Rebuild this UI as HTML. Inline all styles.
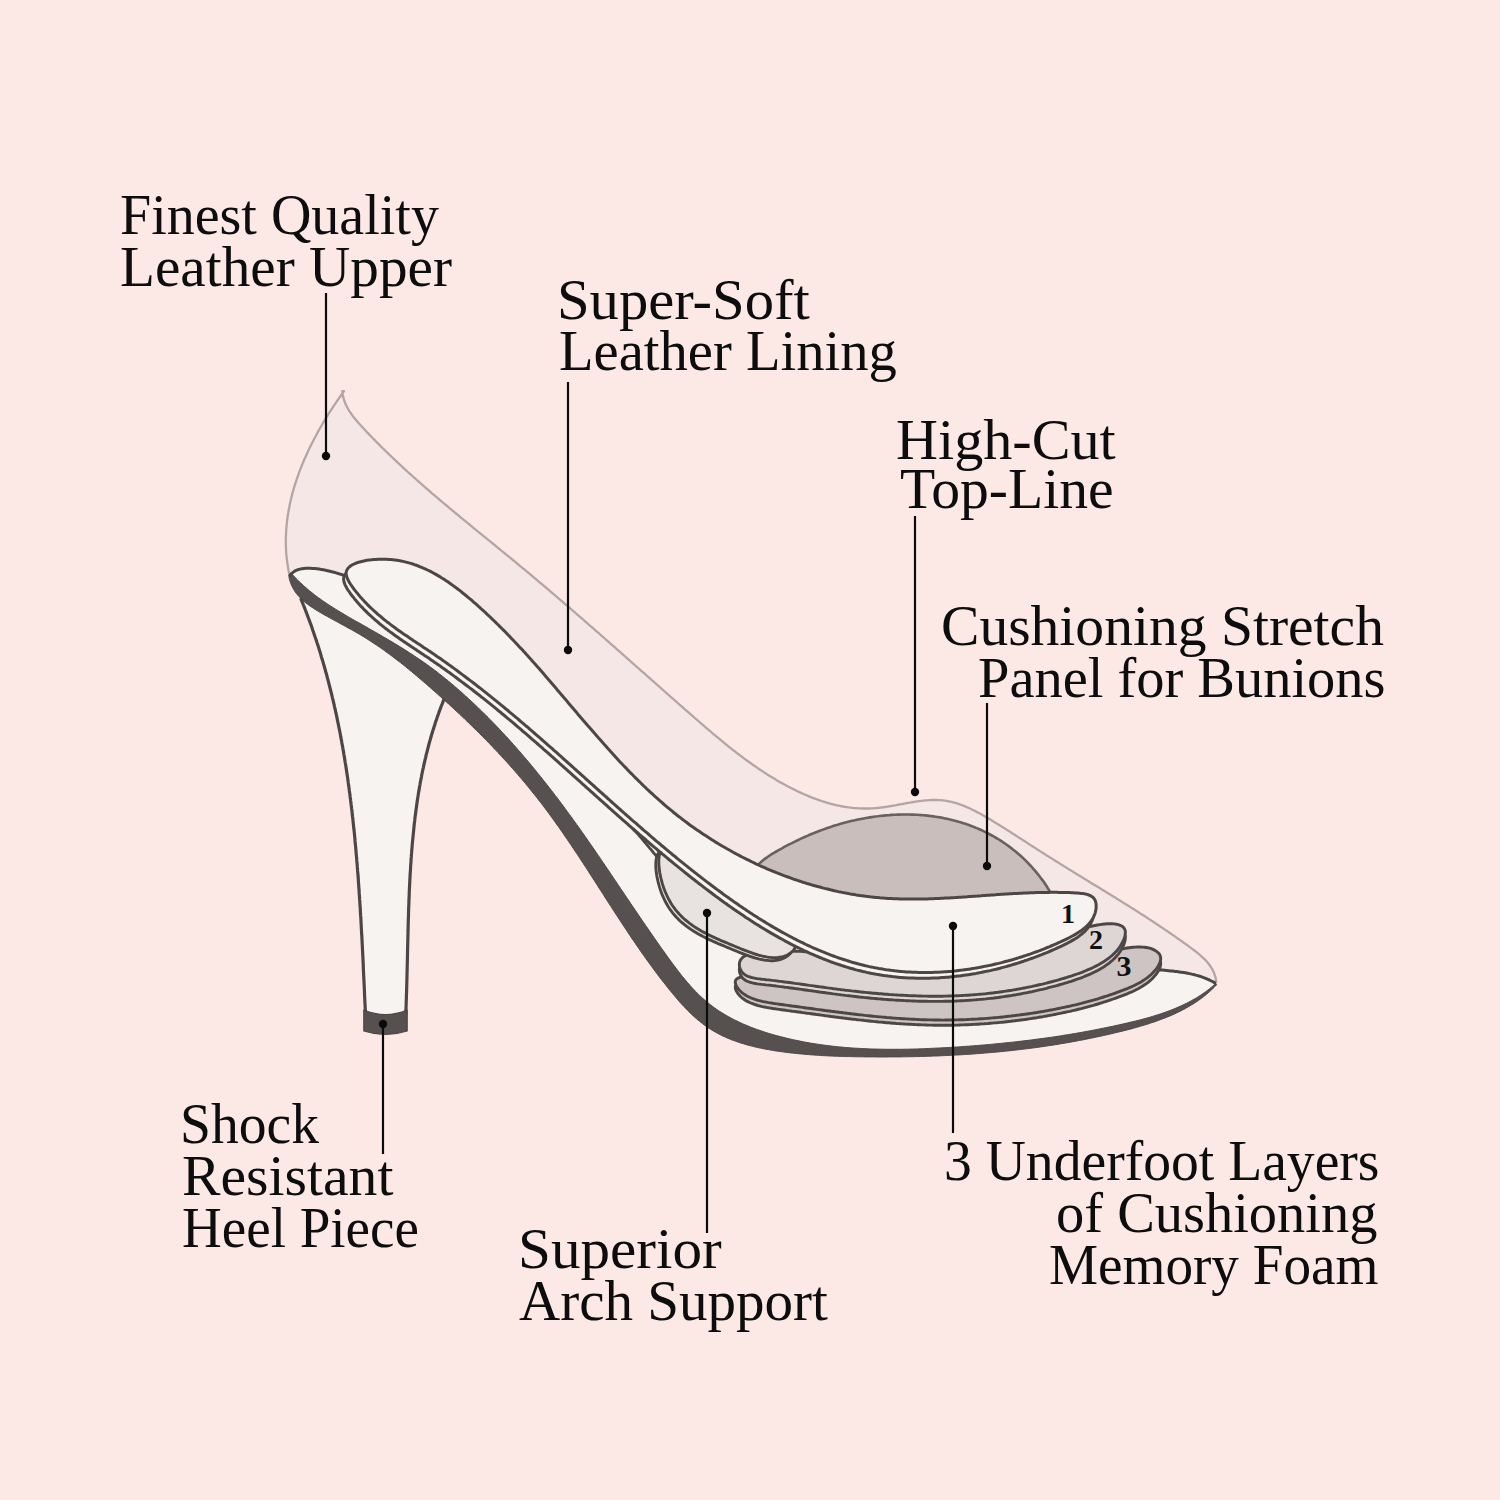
<!DOCTYPE html>
<html><head><meta charset="utf-8"><style>
html,body{margin:0;padding:0;}
body{width:1500px;height:1500px;background:#fce9e6;position:relative;overflow:hidden;}
svg{position:absolute;left:0;top:0;}
.t{position:absolute;font-family:"Liberation Serif",serif;color:#0d0d0d;font-size:56px;line-height:1;white-space:nowrap;transform-origin:0 0;}
</style></head><body>
<svg width="1500" height="1500" viewBox="0 0 1500 1500">
<g stroke-linejoin="round" stroke-linecap="round">
<path d="M289.6,575.2 289.1,573.2 288.7,571.2 288.3,569.1 288.0,567.1 287.6,565.1 287.3,563.0 287.1,561.0 286.8,559.0 286.6,556.9 286.4,554.9 286.2,552.9 286.1,550.8 286.0,548.8 285.9,546.8 285.9,544.7 285.8,542.7 285.8,540.7 285.8,538.7 285.9,536.6 286.0,534.6 286.1,532.6 286.2,530.6 286.3,528.6 286.5,526.5 286.7,524.5 286.9,522.5 287.1,520.5 287.4,518.5 287.6,516.5 287.9,514.5 288.3,512.5 288.6,510.5 289.0,508.5 289.4,506.5 289.8,504.5 290.2,502.5 290.7,500.5 291.1,498.6 291.6,496.6 292.1,494.6 292.6,492.6 293.2,490.7 293.7,488.7 294.3,486.8 294.9,484.8 295.5,482.9 296.2,480.9 296.8,479.0 297.5,477.0 298.2,475.1 298.9,473.2 299.6,471.2 300.3,469.3 301.1,467.4 301.8,465.5 302.6,463.6 303.4,461.7 304.2,459.8 305.0,457.9 305.9,456.0 306.7,454.2 307.6,452.3 308.4,450.4 309.3,448.6 310.2,446.7 311.1,444.9 312.1,443.0 313.0,441.2 313.9,439.4 314.9,437.5 315.9,435.7 316.9,433.9 317.8,432.1 318.8,430.3 319.8,428.5 320.9,426.7 321.9,425.0 322.9,423.2 324.0,421.4 325.0,419.7 326.1,417.9 327.2,416.2 328.2,414.5 329.3,412.7 330.4,411.0 331.5,409.3 332.6,407.6 333.7,405.9 334.8,404.3 336.0,402.6 337.1,400.9 338.2,399.3 339.4,397.6 340.5,396.0 341.7,394.4 342.8,392.7 344.0,391.1 L342.3,391.2 342.5,393.1 342.8,395.0 343.2,396.9 343.7,398.7 344.2,400.5 344.9,402.3 345.6,404.1 346.4,405.8 347.3,407.5 348.2,409.2 349.2,410.8 350.3,412.4 351.4,414.0 352.5,415.6 353.7,417.2 355.0,418.7 356.2,420.3 357.5,421.8 358.8,423.3 360.2,424.8 361.5,426.3 362.9,427.8 364.3,429.2 365.7,430.7 367.0,432.2 368.4,433.6 369.8,435.1 371.2,436.5 372.6,438.0 374.0,439.4 375.4,440.9 376.8,442.3 378.3,443.7 379.7,445.1 381.1,446.6 382.5,448.0 384.0,449.4 385.4,450.8 386.8,452.2 388.3,453.6 389.7,455.0 391.2,456.4 392.6,457.8 394.1,459.2 395.6,460.6 397.0,461.9 398.5,463.3 399.9,464.7 401.4,466.0 402.9,467.4 404.4,468.8 405.9,470.1 407.3,471.5 408.8,472.8 410.3,474.2 411.8,475.5 413.3,476.9 414.8,478.2 416.3,479.5 417.8,480.9 419.3,482.2 420.8,483.5 422.3,484.9 423.8,486.2 425.3,487.5 426.9,488.8 428.4,490.1 429.9,491.4 431.4,492.8 432.9,494.1 434.5,495.4 436.0,496.7 437.5,498.0 439.1,499.3 440.6,500.6 442.1,501.9 443.7,503.2 445.2,504.5 446.7,505.7 448.3,507.0 449.8,508.3 451.4,509.6 452.9,510.9 454.4,512.2 456.0,513.5 457.5,514.7 459.1,516.0 460.6,517.3 462.2,518.6 463.7,519.9 465.3,521.1 466.8,522.4 468.4,523.7 469.9,524.9 471.5,526.2 473.0,527.5 474.6,528.8 476.2,530.0 477.7,531.3 479.3,532.6 480.8,533.8 482.4,535.1 483.9,536.4 485.5,537.6 487.0,538.9 488.6,540.2 490.2,541.4 491.7,542.7 493.3,544.0 494.8,545.2 496.4,546.5 497.9,547.8 499.5,549.0 501.0,550.3 502.6,551.6 504.2,552.8 505.7,554.1 507.3,555.4 508.8,556.6 510.4,557.9 511.9,559.2 513.5,560.5 515.0,561.7 516.5,563.0 518.1,564.3 519.6,565.6 521.2,566.8 522.7,568.1 524.3,569.4 525.8,570.7 527.3,572.0 528.9,573.2 530.4,574.5 532.0,575.8 533.5,577.1 535.0,578.4 536.5,579.7 538.1,581.0 539.6,582.3 541.1,583.5 542.7,584.8 544.2,586.1 545.7,587.4 547.2,588.7 548.8,590.0 550.3,591.3 551.8,592.6 553.3,593.9 554.9,595.2 556.4,596.5 557.9,597.8 559.4,599.1 560.9,600.4 562.4,601.7 564.0,603.0 565.5,604.3 567.0,605.6 568.5,606.9 570.0,608.2 571.5,609.5 573.0,610.9 574.6,612.2 576.1,613.5 577.6,614.8 579.1,616.1 580.6,617.4 582.1,618.7 583.6,620.0 585.1,621.3 586.6,622.7 588.1,624.0 589.6,625.3 591.1,626.6 592.7,627.9 594.2,629.2 595.7,630.6 597.2,631.9 598.7,633.2 600.2,634.5 601.7,635.8 603.2,637.2 604.7,638.5 606.2,639.8 607.7,641.1 609.2,642.4 610.7,643.8 612.2,645.1 613.7,646.4 615.2,647.7 616.7,649.1 618.2,650.4 619.7,651.7 621.2,653.0 622.7,654.3 624.2,655.7 625.7,657.0 627.2,658.3 628.7,659.7 630.2,661.0 631.7,662.3 633.2,663.6 634.7,665.0 636.2,666.3 637.7,667.6 639.2,668.9 640.7,670.3 642.2,671.6 643.7,672.9 645.2,674.2 646.7,675.6 648.2,676.9 649.7,678.2 651.2,679.6 652.7,680.9 654.2,682.2 655.7,683.5 657.2,684.9 658.7,686.2 660.2,687.5 661.7,688.9 663.2,690.2 664.7,691.5 666.2,692.8 667.7,694.2 669.2,695.5 670.7,696.8 672.3,698.1 673.8,699.5 675.3,700.8 676.8,702.1 678.3,703.5 679.8,704.8 681.3,706.1 682.8,707.4 684.3,708.8 685.8,710.1 687.3,711.4 688.9,712.7 690.4,714.1 691.9,715.4 693.4,716.7 694.9,718.0 696.4,719.4 698.0,720.7 699.5,722.0 701.0,723.3 702.5,724.6 704.0,725.9 705.6,727.3 707.1,728.6 708.6,729.9 710.2,731.2 711.7,732.5 713.2,733.8 714.8,735.1 716.3,736.4 717.9,737.7 719.4,738.9 721.0,740.2 722.5,741.5 724.1,742.8 725.6,744.0 727.2,745.3 728.7,746.6 730.3,747.8 731.9,749.1 733.5,750.3 735.1,751.5 736.6,752.8 738.2,754.0 739.8,755.2 741.4,756.4 743.0,757.6 744.6,758.8 746.2,760.0 747.9,761.2 749.5,762.3 751.1,763.5 752.7,764.7 754.4,765.8 756.0,766.9 757.7,768.1 759.3,769.2 761.0,770.3 762.7,771.4 764.3,772.5 766.0,773.6 767.7,774.7 769.4,775.7 771.1,776.8 772.8,777.8 774.5,778.8 776.2,779.9 778.0,780.9 779.7,781.9 781.4,782.9 783.2,783.8 784.9,784.8 786.7,785.8 788.5,786.7 790.2,787.6 792.0,788.5 793.8,789.4 795.6,790.3 797.4,791.2 799.3,792.1 801.1,792.9 802.9,793.7 804.8,794.5 806.6,795.3 808.5,796.1 810.3,796.9 812.2,797.6 814.1,798.3 815.9,799.0 817.8,799.7 819.7,800.4 821.6,801.0 823.5,801.6 825.4,802.2 827.3,802.8 829.3,803.3 831.2,803.9 833.1,804.4 835.1,804.8 837.0,805.3 839.0,805.7 840.9,806.1 842.9,806.5 844.8,806.8 846.8,807.1 848.8,807.4 850.8,807.6 852.7,807.9 854.7,808.1 856.7,808.2 858.7,808.3 860.7,808.4 862.7,808.5 864.7,808.5 866.7,808.5 868.8,808.5 870.8,808.4 872.8,808.3 874.8,808.1 876.8,808.0 878.9,807.8 880.9,807.5 882.9,807.3 885.0,807.0 887.0,806.7 889.1,806.3 891.1,806.0 893.1,805.6 895.2,805.3 897.2,804.9 899.2,804.5 901.3,804.2 903.3,803.8 905.3,803.4 907.4,803.0 909.4,802.7 911.4,802.3 913.4,802.0 915.4,801.7 917.4,801.4 919.4,801.1 921.4,800.8 923.4,800.6 925.4,800.4 927.4,800.3 929.4,800.1 931.3,800.0 933.3,800.0 935.2,800.0 937.2,800.0 939.1,800.1 941.0,800.2 942.9,800.4 944.8,800.6 946.7,800.9 948.6,801.3 950.5,801.7 952.3,802.1 954.2,802.6 956.0,803.1 957.9,803.7 959.7,804.3 961.5,805.0 963.4,805.7 965.2,806.4 967.0,807.2 968.8,808.0 970.6,808.8 972.3,809.7 974.1,810.5 975.9,811.4 977.6,812.4 979.4,813.3 981.2,814.3 982.9,815.3 984.6,816.3 986.4,817.3 988.1,818.3 989.8,819.3 991.6,820.3 993.3,821.4 995.0,822.4 996.7,823.5 998.4,824.5 1000.1,825.6 1001.9,826.7 1003.6,827.7 1005.3,828.8 1007.0,829.9 1008.7,830.9 1010.4,832.0 1012.0,833.1 1013.7,834.2 1015.4,835.3 1017.1,836.4 1018.8,837.5 1020.5,838.5 1022.2,839.6 1023.9,840.7 1025.6,841.8 1027.2,842.9 1028.9,844.0 1030.6,845.1 1032.3,846.2 1034.0,847.3 1035.7,848.4 1037.4,849.5 1039.1,850.5 1040.8,851.6 1042.5,852.7 1044.2,853.8 1045.9,854.9 1047.6,855.9 1049.3,857.0 1051.0,858.1 1052.7,859.1 1054.4,860.2 1056.1,861.3 1057.8,862.3 1059.5,863.4 1061.2,864.5 1062.9,865.5 1064.6,866.6 1066.3,867.6 1068.0,868.7 1069.7,869.7 1071.5,870.8 1073.2,871.9 1074.9,872.9 1076.6,874.0 1078.3,875.0 1080.0,876.1 1081.7,877.1 1083.5,878.2 1085.2,879.2 1086.9,880.3 1088.6,881.3 1090.3,882.4 1092.0,883.4 1093.7,884.4 1095.5,885.5 1097.2,886.5 1098.9,887.6 1100.6,888.6 1102.3,889.7 1104.0,890.7 1105.7,891.8 1107.5,892.9 1109.2,893.9 1110.9,895.0 1112.6,896.0 1114.3,897.1 1116.0,898.1 1117.7,899.2 1119.4,900.2 1121.1,901.3 1122.8,902.4 1124.5,903.4 1126.2,904.5 1127.9,905.6 1129.6,906.6 1131.3,907.7 1133.0,908.8 1134.7,909.8 1136.4,910.9 1138.1,912.0 1139.8,913.1 1141.5,914.2 1143.2,915.2 1144.9,916.3 1146.5,917.4 1148.2,918.5 1149.9,919.6 1151.6,920.7 1153.3,921.8 1154.9,922.9 1156.6,924.0 1158.3,925.1 1159.9,926.2 1161.6,927.4 1163.3,928.5 1164.9,929.6 1166.6,930.7 1168.3,931.9 1169.9,933.0 1171.6,934.1 1173.2,935.3 1174.9,936.4 1176.5,937.6 1178.1,938.7 1179.8,939.9 1181.4,941.0 1183.0,942.2 1184.7,943.4 1186.3,944.5 1187.9,945.7 1189.5,946.9 1191.2,948.1 1192.8,949.3 1194.4,950.5 1195.9,951.7 1197.5,952.9 1199.0,954.2 1200.5,955.5 1202.0,956.8 1203.4,958.1 1204.8,959.4 1206.1,960.8 1207.4,962.3 1208.6,963.7 1209.7,965.3 1210.8,966.8 1211.8,968.5 1212.7,970.1 1213.6,971.9 1214.3,973.6 1214.9,975.5 1215.5,977.4 1215.9,979.4 1216.2,981.5 L1150,1020 L700,995 L450,690 Z" fill="#f5e7e6"/>
<path d="M289.6,575.2 289.1,573.2 288.7,571.2 288.3,569.1 288.0,567.1 287.6,565.1 287.3,563.0 287.1,561.0 286.8,559.0 286.6,556.9 286.4,554.9 286.2,552.9 286.1,550.8 286.0,548.8 285.9,546.8 285.9,544.7 285.8,542.7 285.8,540.7 285.8,538.7 285.9,536.6 286.0,534.6 286.1,532.6 286.2,530.6 286.3,528.6 286.5,526.5 286.7,524.5 286.9,522.5 287.1,520.5 287.4,518.5 287.6,516.5 287.9,514.5 288.3,512.5 288.6,510.5 289.0,508.5 289.4,506.5 289.8,504.5 290.2,502.5 290.7,500.5 291.1,498.6 291.6,496.6 292.1,494.6 292.6,492.6 293.2,490.7 293.7,488.7 294.3,486.8 294.9,484.8 295.5,482.9 296.2,480.9 296.8,479.0 297.5,477.0 298.2,475.1 298.9,473.2 299.6,471.2 300.3,469.3 301.1,467.4 301.8,465.5 302.6,463.6 303.4,461.7 304.2,459.8 305.0,457.9 305.9,456.0 306.7,454.2 307.6,452.3 308.4,450.4 309.3,448.6 310.2,446.7 311.1,444.9 312.1,443.0 313.0,441.2 313.9,439.4 314.9,437.5 315.9,435.7 316.9,433.9 317.8,432.1 318.8,430.3 319.8,428.5 320.9,426.7 321.9,425.0 322.9,423.2 324.0,421.4 325.0,419.7 326.1,417.9 327.2,416.2 328.2,414.5 329.3,412.7 330.4,411.0 331.5,409.3 332.6,407.6 333.7,405.9 334.8,404.3 336.0,402.6 337.1,400.9 338.2,399.3 339.4,397.6 340.5,396.0 341.7,394.4 342.8,392.7 344.0,391.1 L342.3,391.2 342.5,393.1 342.8,395.0 343.2,396.9 343.7,398.7 344.2,400.5 344.9,402.3 345.6,404.1 346.4,405.8 347.3,407.5 348.2,409.2 349.2,410.8 350.3,412.4 351.4,414.0 352.5,415.6 353.7,417.2 355.0,418.7 356.2,420.3 357.5,421.8 358.8,423.3 360.2,424.8 361.5,426.3 362.9,427.8 364.3,429.2 365.7,430.7 367.0,432.2 368.4,433.6 369.8,435.1 371.2,436.5 372.6,438.0 374.0,439.4 375.4,440.9 376.8,442.3 378.3,443.7 379.7,445.1 381.1,446.6 382.5,448.0 384.0,449.4 385.4,450.8 386.8,452.2 388.3,453.6 389.7,455.0 391.2,456.4 392.6,457.8 394.1,459.2 395.6,460.6 397.0,461.9 398.5,463.3 399.9,464.7 401.4,466.0 402.9,467.4 404.4,468.8 405.9,470.1 407.3,471.5 408.8,472.8 410.3,474.2 411.8,475.5 413.3,476.9 414.8,478.2 416.3,479.5 417.8,480.9 419.3,482.2 420.8,483.5 422.3,484.9 423.8,486.2 425.3,487.5 426.9,488.8 428.4,490.1 429.9,491.4 431.4,492.8 432.9,494.1 434.5,495.4 436.0,496.7 437.5,498.0 439.1,499.3 440.6,500.6 442.1,501.9 443.7,503.2 445.2,504.5 446.7,505.7 448.3,507.0 449.8,508.3 451.4,509.6 452.9,510.9 454.4,512.2 456.0,513.5 457.5,514.7 459.1,516.0 460.6,517.3 462.2,518.6 463.7,519.9 465.3,521.1 466.8,522.4 468.4,523.7 469.9,524.9 471.5,526.2 473.0,527.5 474.6,528.8 476.2,530.0 477.7,531.3 479.3,532.6 480.8,533.8 482.4,535.1 483.9,536.4 485.5,537.6 487.0,538.9 488.6,540.2 490.2,541.4 491.7,542.7 493.3,544.0 494.8,545.2 496.4,546.5 497.9,547.8 499.5,549.0 501.0,550.3 502.6,551.6 504.2,552.8 505.7,554.1 507.3,555.4 508.8,556.6 510.4,557.9 511.9,559.2 513.5,560.5 515.0,561.7 516.5,563.0 518.1,564.3 519.6,565.6 521.2,566.8 522.7,568.1 524.3,569.4 525.8,570.7 527.3,572.0 528.9,573.2 530.4,574.5 532.0,575.8 533.5,577.1 535.0,578.4 536.5,579.7 538.1,581.0 539.6,582.3 541.1,583.5 542.7,584.8 544.2,586.1 545.7,587.4 547.2,588.7 548.8,590.0 550.3,591.3 551.8,592.6 553.3,593.9 554.9,595.2 556.4,596.5 557.9,597.8 559.4,599.1 560.9,600.4 562.4,601.7 564.0,603.0 565.5,604.3 567.0,605.6 568.5,606.9 570.0,608.2 571.5,609.5 573.0,610.9 574.6,612.2 576.1,613.5 577.6,614.8 579.1,616.1 580.6,617.4 582.1,618.7 583.6,620.0 585.1,621.3 586.6,622.7 588.1,624.0 589.6,625.3 591.1,626.6 592.7,627.9 594.2,629.2 595.7,630.6 597.2,631.9 598.7,633.2 600.2,634.5 601.7,635.8 603.2,637.2 604.7,638.5 606.2,639.8 607.7,641.1 609.2,642.4 610.7,643.8 612.2,645.1 613.7,646.4 615.2,647.7 616.7,649.1 618.2,650.4 619.7,651.7 621.2,653.0 622.7,654.3 624.2,655.7 625.7,657.0 627.2,658.3 628.7,659.7 630.2,661.0 631.7,662.3 633.2,663.6 634.7,665.0 636.2,666.3 637.7,667.6 639.2,668.9 640.7,670.3 642.2,671.6 643.7,672.9 645.2,674.2 646.7,675.6 648.2,676.9 649.7,678.2 651.2,679.6 652.7,680.9 654.2,682.2 655.7,683.5 657.2,684.9 658.7,686.2 660.2,687.5 661.7,688.9 663.2,690.2 664.7,691.5 666.2,692.8 667.7,694.2 669.2,695.5 670.7,696.8 672.3,698.1 673.8,699.5 675.3,700.8 676.8,702.1 678.3,703.5 679.8,704.8 681.3,706.1 682.8,707.4 684.3,708.8 685.8,710.1 687.3,711.4 688.9,712.7 690.4,714.1 691.9,715.4 693.4,716.7 694.9,718.0 696.4,719.4 698.0,720.7 699.5,722.0 701.0,723.3 702.5,724.6 704.0,725.9 705.6,727.3 707.1,728.6 708.6,729.9 710.2,731.2 711.7,732.5 713.2,733.8 714.8,735.1 716.3,736.4 717.9,737.7 719.4,738.9 721.0,740.2 722.5,741.5 724.1,742.8 725.6,744.0 727.2,745.3 728.7,746.6 730.3,747.8 731.9,749.1 733.5,750.3 735.1,751.5 736.6,752.8 738.2,754.0 739.8,755.2 741.4,756.4 743.0,757.6 744.6,758.8 746.2,760.0 747.9,761.2 749.5,762.3 751.1,763.5 752.7,764.7 754.4,765.8 756.0,766.9 757.7,768.1 759.3,769.2 761.0,770.3 762.7,771.4 764.3,772.5 766.0,773.6 767.7,774.7 769.4,775.7 771.1,776.8 772.8,777.8 774.5,778.8 776.2,779.9 778.0,780.9 779.7,781.9 781.4,782.9 783.2,783.8 784.9,784.8 786.7,785.8 788.5,786.7 790.2,787.6 792.0,788.5 793.8,789.4 795.6,790.3 797.4,791.2 799.3,792.1 801.1,792.9 802.9,793.7 804.8,794.5 806.6,795.3 808.5,796.1 810.3,796.9 812.2,797.6 814.1,798.3 815.9,799.0 817.8,799.7 819.7,800.4 821.6,801.0 823.5,801.6 825.4,802.2 827.3,802.8 829.3,803.3 831.2,803.9 833.1,804.4 835.1,804.8 837.0,805.3 839.0,805.7 840.9,806.1 842.9,806.5 844.8,806.8 846.8,807.1 848.8,807.4 850.8,807.6 852.7,807.9 854.7,808.1 856.7,808.2 858.7,808.3 860.7,808.4 862.7,808.5 864.7,808.5 866.7,808.5 868.8,808.5 870.8,808.4 872.8,808.3 874.8,808.1 876.8,808.0 878.9,807.8 880.9,807.5 882.9,807.3 885.0,807.0 887.0,806.7 889.1,806.3 891.1,806.0 893.1,805.6 895.2,805.3 897.2,804.9 899.2,804.5 901.3,804.2 903.3,803.8 905.3,803.4 907.4,803.0 909.4,802.7 911.4,802.3 913.4,802.0 915.4,801.7 917.4,801.4 919.4,801.1 921.4,800.8 923.4,800.6 925.4,800.4 927.4,800.3 929.4,800.1 931.3,800.0 933.3,800.0 935.2,800.0 937.2,800.0 939.1,800.1 941.0,800.2 942.9,800.4 944.8,800.6 946.7,800.9 948.6,801.3 950.5,801.7 952.3,802.1 954.2,802.6 956.0,803.1 957.9,803.7 959.7,804.3 961.5,805.0 963.4,805.7 965.2,806.4 967.0,807.2 968.8,808.0 970.6,808.8 972.3,809.7 974.1,810.5 975.9,811.4 977.6,812.4 979.4,813.3 981.2,814.3 982.9,815.3 984.6,816.3 986.4,817.3 988.1,818.3 989.8,819.3 991.6,820.3 993.3,821.4 995.0,822.4 996.7,823.5 998.4,824.5 1000.1,825.6 1001.9,826.7 1003.6,827.7 1005.3,828.8 1007.0,829.9 1008.7,830.9 1010.4,832.0 1012.0,833.1 1013.7,834.2 1015.4,835.3 1017.1,836.4 1018.8,837.5 1020.5,838.5 1022.2,839.6 1023.9,840.7 1025.6,841.8 1027.2,842.9 1028.9,844.0 1030.6,845.1 1032.3,846.2 1034.0,847.3 1035.7,848.4 1037.4,849.5 1039.1,850.5 1040.8,851.6 1042.5,852.7 1044.2,853.8 1045.9,854.9 1047.6,855.9 1049.3,857.0 1051.0,858.1 1052.7,859.1 1054.4,860.2 1056.1,861.3 1057.8,862.3 1059.5,863.4 1061.2,864.5 1062.9,865.5 1064.6,866.6 1066.3,867.6 1068.0,868.7 1069.7,869.7 1071.5,870.8 1073.2,871.9 1074.9,872.9 1076.6,874.0 1078.3,875.0 1080.0,876.1 1081.7,877.1 1083.5,878.2 1085.2,879.2 1086.9,880.3 1088.6,881.3 1090.3,882.4 1092.0,883.4 1093.7,884.4 1095.5,885.5 1097.2,886.5 1098.9,887.6 1100.6,888.6 1102.3,889.7 1104.0,890.7 1105.7,891.8 1107.5,892.9 1109.2,893.9 1110.9,895.0 1112.6,896.0 1114.3,897.1 1116.0,898.1 1117.7,899.2 1119.4,900.2 1121.1,901.3 1122.8,902.4 1124.5,903.4 1126.2,904.5 1127.9,905.6 1129.6,906.6 1131.3,907.7 1133.0,908.8 1134.7,909.8 1136.4,910.9 1138.1,912.0 1139.8,913.1 1141.5,914.2 1143.2,915.2 1144.9,916.3 1146.5,917.4 1148.2,918.5 1149.9,919.6 1151.6,920.7 1153.3,921.8 1154.9,922.9 1156.6,924.0 1158.3,925.1 1159.9,926.2 1161.6,927.4 1163.3,928.5 1164.9,929.6 1166.6,930.7 1168.3,931.9 1169.9,933.0 1171.6,934.1 1173.2,935.3 1174.9,936.4 1176.5,937.6 1178.1,938.7 1179.8,939.9 1181.4,941.0 1183.0,942.2 1184.7,943.4 1186.3,944.5 1187.9,945.7 1189.5,946.9 1191.2,948.1 1192.8,949.3 1194.4,950.5 1195.9,951.7 1197.5,952.9 1199.0,954.2 1200.5,955.5 1202.0,956.8 1203.4,958.1 1204.8,959.4 1206.1,960.8 1207.4,962.3 1208.6,963.7 1209.7,965.3 1210.8,966.8 1211.8,968.5 1212.7,970.1 1213.6,971.9 1214.3,973.6 1214.9,975.5 1215.5,977.4 1215.9,979.4 1216.2,981.5" fill="none" stroke="#b3a5a4" stroke-width="2.3"/>
<path d="M289.7,575.7 291.1,574.0 292.7,572.6 294.3,571.4 296.1,570.4 298.0,569.7 299.9,569.1 301.9,568.7 304.0,568.5 306.1,568.3 308.2,568.3 310.4,568.3 312.6,568.4 314.7,568.6 316.9,568.8 319.1,569.1 321.2,569.4 323.4,569.8 325.5,570.2 327.7,570.7 329.8,571.2 331.9,571.8 334.0,572.3 336.1,572.9 338.1,573.5 340.1,574.1 342.1,574.7 344.0,575.3 345.9,575.9 600.0,800.0 900.0,960.0 1150.0,969.0 1152.0,969.2 1154.1,969.4 1156.2,969.6 1158.2,969.8 1160.3,970.0 1162.4,970.1 1164.5,970.3 1166.6,970.5 1168.7,970.7 1170.8,970.9 1172.9,971.1 1175.0,971.4 1177.1,971.6 1179.2,971.9 1181.3,972.2 1183.4,972.5 1185.4,972.8 1187.5,973.2 1189.6,973.6 1191.6,974.1 1193.7,974.5 1195.7,975.1 1197.7,975.6 1199.7,976.2 1201.7,976.9 1203.6,977.6 1205.6,978.3 1207.5,979.2 1209.4,980.0 1211.3,981.0 1213.2,981.9 1215.0,983.0 1215.5,983.7 1214.0,985.0 1212.5,986.3 1211.0,987.6 1209.5,988.8 1207.9,990.0 1206.3,991.2 1204.8,992.4 1203.1,993.5 1201.5,994.6 1199.9,995.7 1198.2,996.7 1196.5,997.8 1194.8,998.8 1193.1,999.7 1191.4,1000.7 1189.7,1001.6 1187.9,1002.6 1186.2,1003.4 1184.4,1004.3 1182.6,1005.2 1180.8,1006.0 1179.0,1006.8 1177.2,1007.6 1175.3,1008.4 1173.5,1009.1 1171.6,1009.9 1169.8,1010.6 1167.9,1011.3 1166.0,1012.0 1164.1,1012.7 1162.2,1013.3 1160.3,1014.0 1158.4,1014.6 1156.4,1015.2 1154.5,1015.8 1152.6,1016.4 1150.6,1017.0 1148.7,1017.5 1146.7,1018.1 1144.8,1018.6 1142.8,1019.2 1140.8,1019.7 1138.9,1020.2 1136.9,1020.7 1134.9,1021.2 1132.9,1021.7 1130.9,1022.1 1129.0,1022.6 1127.0,1023.1 1125.0,1023.5 1123.0,1024.0 1121.0,1024.4 1119.0,1024.9 1117.1,1025.3 1115.1,1025.7 1113.1,1026.2 1111.1,1026.6 1109.1,1027.0 1107.1,1027.4 1105.2,1027.8 1103.2,1028.2 1101.2,1028.6 1099.2,1029.0 1097.2,1029.4 1095.3,1029.8 1093.3,1030.2 1091.3,1030.5 1089.3,1030.9 1087.3,1031.3 1085.4,1031.6 1083.4,1032.0 1081.4,1032.4 1079.4,1032.7 1077.5,1033.0 1075.5,1033.4 1073.5,1033.7 1071.5,1034.1 1069.5,1034.4 1067.6,1034.7 1065.6,1035.0 1063.6,1035.3 1061.6,1035.7 1059.7,1036.0 1057.7,1036.3 1055.7,1036.6 1053.7,1036.9 1051.8,1037.2 1049.8,1037.4 1047.8,1037.7 1045.8,1038.0 1043.9,1038.3 1041.9,1038.6 1039.9,1038.8 1037.9,1039.1 1035.9,1039.3 1034.0,1039.6 1032.0,1039.9 1030.0,1040.1 1028.0,1040.4 1026.1,1040.6 1024.1,1040.8 1022.1,1041.1 1020.1,1041.3 1018.1,1041.5 1016.2,1041.8 1014.2,1042.0 1012.2,1042.2 1010.2,1042.4 1008.2,1042.6 1006.2,1042.8 1004.3,1043.0 1002.3,1043.2 1000.3,1043.4 998.3,1043.6 996.3,1043.8 994.3,1044.0 992.4,1044.2 990.4,1044.4 988.4,1044.5 986.4,1044.7 984.4,1044.9 982.4,1045.1 980.4,1045.2 978.4,1045.4 976.4,1045.6 974.4,1045.7 972.4,1045.9 970.4,1046.0 968.5,1046.2 966.5,1046.3 964.5,1046.4 962.5,1046.6 960.5,1046.7 958.5,1046.9 956.5,1047.0 954.5,1047.1 952.4,1047.2 950.4,1047.4 948.4,1047.5 946.4,1047.6 944.4,1047.7 942.4,1047.8 940.4,1047.9 938.4,1048.0 936.4,1048.1 934.4,1048.2 932.4,1048.3 930.3,1048.4 928.3,1048.5 926.3,1048.6 924.3,1048.7 922.3,1048.8 920.3,1048.8 918.2,1048.9 916.2,1049.0 914.2,1049.0 912.2,1049.1 910.2,1049.1 908.2,1049.2 906.1,1049.2 904.1,1049.2 902.1,1049.3 900.1,1049.3 898.1,1049.3 896.0,1049.3 894.0,1049.3 892.0,1049.3 890.0,1049.3 888.0,1049.3 885.9,1049.3 883.9,1049.2 881.9,1049.2 879.9,1049.2 877.9,1049.1 875.9,1049.1 873.8,1049.0 871.8,1049.0 869.8,1048.9 867.8,1048.8 865.8,1048.7 863.8,1048.6 861.8,1048.5 859.7,1048.4 857.7,1048.3 855.7,1048.2 853.7,1048.1 851.7,1047.9 849.7,1047.8 847.7,1047.6 845.7,1047.5 843.7,1047.3 841.7,1047.1 839.7,1046.9 837.7,1046.7 835.7,1046.5 833.7,1046.3 831.7,1046.1 829.7,1045.8 827.7,1045.6 825.7,1045.3 823.7,1045.1 821.7,1044.8 819.7,1044.5 817.8,1044.2 815.8,1043.9 813.8,1043.6 811.8,1043.3 809.8,1043.0 807.9,1042.6 805.9,1042.3 803.9,1041.9 801.9,1041.5 800.0,1041.1 798.0,1040.7 796.0,1040.3 794.1,1039.9 792.1,1039.5 790.2,1039.0 788.2,1038.6 786.3,1038.1 784.3,1037.6 782.4,1037.1 780.4,1036.6 778.5,1036.1 776.5,1035.6 774.6,1035.1 772.7,1034.5 770.7,1033.9 768.8,1033.4 766.9,1032.8 765.0,1032.2 763.1,1031.5 761.2,1030.9 759.3,1030.2 757.4,1029.6 755.5,1028.9 753.6,1028.2 751.7,1027.5 749.9,1026.8 748.0,1026.0 746.2,1025.2 744.4,1024.5 742.5,1023.7 740.7,1022.8 738.9,1022.0 737.1,1021.1 735.3,1020.3 733.6,1019.4 731.8,1018.5 730.1,1017.5 728.3,1016.6 726.6,1015.6 724.9,1014.6 723.2,1013.6 721.5,1012.5 719.9,1011.5 718.2,1010.4 716.6,1009.3 715.0,1008.2 713.4,1007.0 711.8,1005.8 710.2,1004.6 708.7,1003.4 707.2,1002.2 705.7,1000.9 704.2,999.6 702.7,998.3 701.2,997.0 699.8,995.6 698.4,994.2 696.9,992.8 695.5,991.4 694.2,989.9 692.8,988.5 691.4,987.0 690.1,985.5 688.8,984.0 687.5,982.5 686.2,981.0 684.9,979.4 683.6,977.8 682.3,976.3 681.0,974.7 679.8,973.1 678.5,971.5 677.3,969.9 676.1,968.3 674.8,966.6 673.6,965.0 672.4,963.4 671.2,961.7 670.0,960.1 668.8,958.4 667.6,956.8 666.4,955.1 665.3,953.5 664.1,951.8 662.9,950.2 661.7,948.5 660.5,946.9 659.4,945.2 658.2,943.5 657.0,941.9 655.9,940.2 654.7,938.6 653.6,936.9 652.4,935.2 651.3,933.6 650.1,931.9 649.0,930.3 647.8,928.6 646.7,926.9 645.5,925.3 644.4,923.6 643.2,921.9 642.1,920.3 641.0,918.6 639.8,917.0 638.7,915.3 637.6,913.6 636.5,912.0 635.3,910.3 634.2,908.6 633.1,907.0 631.9,905.3 630.8,903.7 629.7,902.0 628.6,900.3 627.5,898.7 626.3,897.0 625.2,895.3 624.1,893.7 623.0,892.0 621.9,890.4 620.7,888.7 619.6,887.0 618.5,885.4 617.4,883.7 616.3,882.0 615.2,880.4 614.0,878.7 612.9,877.1 611.8,875.4 610.7,873.8 609.6,872.1 608.5,870.4 607.3,868.8 606.2,867.1 605.1,865.5 604.0,863.8 602.8,862.2 601.7,860.5 600.6,858.9 599.5,857.2 598.3,855.6 597.2,853.9 596.1,852.3 595.0,850.6 593.8,849.0 592.7,847.3 591.6,845.7 590.4,844.1 589.3,842.4 588.1,840.8 587.0,839.1 585.9,837.5 584.7,835.9 583.6,834.2 582.4,832.6 581.3,831.0 580.1,829.3 579.0,827.7 577.8,826.1 576.6,824.4 575.5,822.8 574.3,821.2 573.1,819.6 572.0,817.9 570.8,816.3 569.6,814.7 568.4,813.1 567.2,811.5 566.1,809.9 564.9,808.3 563.7,806.6 562.5,805.0 561.3,803.4 560.1,801.8 558.9,800.2 557.7,798.6 556.5,797.0 555.2,795.4 554.0,793.8 552.8,792.2 551.6,790.7 550.4,789.1 549.1,787.5 547.9,785.9 546.7,784.3 545.4,782.8 544.2,781.2 542.9,779.6 541.7,778.0 540.4,776.5 539.2,774.9 537.9,773.4 536.6,771.8 535.4,770.2 534.1,768.7 532.8,767.1 531.5,765.6 530.3,764.0 529.0,762.5 527.7,761.0 526.4,759.4 525.1,757.9 523.8,756.4 522.5,754.9 521.2,753.3 519.9,751.8 518.5,750.3 517.2,748.8 515.9,747.3 514.6,745.8 513.2,744.3 511.9,742.8 510.6,741.3 509.2,739.8 507.9,738.3 506.5,736.8 505.1,735.4 503.8,733.9 502.4,732.4 501.0,731.0 499.7,729.5 498.3,728.0 496.9,726.6 495.5,725.1 494.1,723.7 492.7,722.2 491.3,720.8 489.9,719.4 488.5,717.9 487.1,716.5 485.7,715.1 484.2,713.7 482.8,712.3 481.4,710.9 479.9,709.5 478.5,708.1 477.0,706.7 475.6,705.3 474.1,703.9 472.7,702.5 471.2,701.2 469.7,699.8 468.2,698.4 466.7,697.1 465.3,695.7 463.8,694.4 462.3,693.0 460.8,691.7 459.3,690.4 457.7,689.0 456.2,687.7 454.7,686.4 453.2,685.1 451.6,683.8 450.1,682.5 448.5,681.2 447.0,679.9 445.4,678.7 443.9,677.4 442.3,676.2 440.7,674.9 439.1,673.7 437.6,672.4 436.0,671.2 434.4,670.0 432.8,668.8 431.1,667.6 429.5,666.4 427.9,665.2 426.3,664.1 424.7,662.9 423.0,661.8 421.4,660.6 419.7,659.5 418.1,658.4 416.4,657.3 414.7,656.2 413.1,655.1 411.4,654.0 409.7,652.9 408.0,651.8 406.4,650.7 404.7,649.7 403.0,648.6 401.3,647.5 399.6,646.5 397.9,645.4 396.2,644.4 394.5,643.4 392.7,642.3 391.0,641.3 389.3,640.3 387.6,639.3 385.9,638.3 384.1,637.3 382.4,636.3 380.7,635.2 378.9,634.2 377.2,633.2 375.5,632.3 373.7,631.3 372.0,630.3 370.2,629.3 368.5,628.3 366.8,627.3 365.0,626.3 363.3,625.3 361.5,624.3 359.8,623.3 358.0,622.3 356.3,621.4 354.5,620.4 352.8,619.4 351.1,618.4 349.3,617.4 347.6,616.4 345.9,615.4 344.1,614.3 342.4,613.3 340.7,612.3 339.0,611.3 337.3,610.2 335.6,609.2 333.9,608.1 332.2,607.0 330.5,605.9 328.8,604.9 327.1,603.8 325.5,602.6 323.8,601.5 322.2,600.4 320.6,599.2 318.9,598.1 317.3,596.9 315.7,595.7 314.1,594.5 312.6,593.2 311.0,592.0 309.4,590.7 307.9,589.4 306.4,588.1 304.9,586.8 303.4,585.5 301.9,584.1 300.4,582.7 298.9,581.3 297.5,579.9 296.1,578.5 294.7,577.0 293.3,575.5 291.9,574.0 Z" fill="#f7f3f1"/>
<path d="M301.1,599.4 301.9,601.3 302.7,603.2 303.4,605.0 304.2,606.9 304.9,608.8 305.6,610.7 306.4,612.6 307.1,614.5 307.8,616.4 308.5,618.3 309.2,620.1 309.9,622.0 310.6,623.9 311.3,625.8 312.0,627.7 312.6,629.7 313.3,631.6 313.9,633.5 314.6,635.4 315.2,637.3 315.9,639.2 316.5,641.1 317.1,643.0 317.8,644.9 318.4,646.9 319.0,648.8 319.6,650.7 320.2,652.6 320.8,654.6 321.3,656.5 321.9,658.4 322.5,660.3 323.1,662.3 323.6,664.2 324.2,666.1 324.7,668.1 325.3,670.0 325.8,672.0 326.4,673.9 326.9,675.8 327.4,677.8 327.9,679.7 328.4,681.7 328.9,683.6 329.4,685.6 329.9,687.5 330.4,689.5 330.9,691.4 331.4,693.4 331.9,695.3 332.3,697.3 332.8,699.2 333.3,701.2 333.7,703.2 334.2,705.1 334.6,707.1 335.1,709.1 335.5,711.0 335.9,713.0 336.4,714.9 336.8,716.9 337.2,718.9 337.6,720.9 338.0,722.8 338.4,724.8 338.8,726.8 339.2,728.8 339.6,730.7 340.0,732.7 340.4,734.7 340.7,736.7 341.1,738.6 341.5,740.6 341.8,742.6 342.2,744.6 342.6,746.6 342.9,748.6 343.3,750.6 343.6,752.5 343.9,754.5 344.3,756.5 344.6,758.5 344.9,760.5 345.2,762.5 345.6,764.5 345.9,766.5 346.2,768.5 346.5,770.5 346.8,772.5 347.1,774.5 347.4,776.5 347.7,778.5 348.0,780.5 348.2,782.4 348.5,784.5 348.8,786.5 349.1,788.5 349.3,790.5 349.6,792.5 349.9,794.5 350.1,796.5 350.4,798.5 350.6,800.5 350.9,802.5 351.1,804.5 351.4,806.5 351.6,808.5 351.9,810.5 352.1,812.5 352.3,814.5 352.5,816.5 352.8,818.6 353.0,820.6 353.2,822.6 353.4,824.6 353.6,826.6 353.8,828.6 354.1,830.6 354.3,832.6 354.5,834.6 354.7,836.7 354.9,838.7 355.0,840.7 355.2,842.7 355.4,844.7 355.6,846.7 355.8,848.8 356.0,850.8 356.1,852.8 356.3,854.8 356.5,856.8 356.7,858.8 356.8,860.9 357.0,862.9 357.2,864.9 357.3,866.9 357.5,868.9 357.6,870.9 357.8,873.0 358.0,875.0 358.1,877.0 358.3,879.0 358.4,881.0 358.5,883.1 358.7,885.1 358.8,887.1 359.0,889.1 359.1,891.1 359.2,893.2 359.4,895.2 359.5,897.2 359.6,899.2 359.8,901.2 359.9,903.3 360.0,905.3 360.2,907.3 360.3,909.3 360.4,911.3 360.5,913.3 360.6,915.4 360.8,917.4 360.9,919.4 361.0,921.4 361.1,923.4 361.2,925.5 361.3,927.5 361.4,929.5 361.5,931.5 361.6,933.5 361.8,935.5 361.9,937.6 362.0,939.6 362.1,941.6 362.2,943.6 362.3,945.6 362.4,947.6 362.5,949.6 362.6,951.7 362.7,953.7 362.8,955.7 362.9,957.7 363.0,959.7 363.1,961.7 363.2,963.7 363.3,965.7 363.3,967.8 363.4,969.8 363.5,971.8 363.6,973.8 363.7,975.8 363.8,977.8 363.9,979.8 364.0,981.8 364.1,983.8 364.2,985.8 364.3,987.8 364.4,989.8 364.5,991.8 364.5,993.8 364.6,995.8 364.7,997.8 364.8,999.8 364.9,1001.8 365.0,1003.8 365.1,1005.8 365.2,1007.8 365.3,1009.8 365.4,1011.8 365.5,1013.8 365.6,1015.8 L405.7,1015.9 405.8,1013.9 405.9,1011.9 406.0,1009.9 406.0,1008.0 406.1,1006.0 406.2,1004.0 406.2,1002.0 406.3,1000.0 406.4,998.0 406.4,996.0 406.5,994.0 406.6,992.0 406.6,990.1 406.7,988.1 406.7,986.1 406.8,984.1 406.8,982.1 406.9,980.1 406.9,978.1 407.0,976.1 407.0,974.1 407.1,972.0 407.1,970.0 407.2,968.0 407.2,966.0 407.3,964.0 407.3,962.0 407.4,960.0 407.4,958.0 407.5,956.0 407.5,953.9 407.5,951.9 407.6,949.9 407.6,947.9 407.7,945.9 407.7,943.9 407.8,941.8 407.8,939.8 407.9,937.8 407.9,935.8 408.0,933.8 408.0,931.7 408.1,929.7 408.1,927.7 408.2,925.7 408.2,923.7 408.3,921.6 408.3,919.6 408.4,917.6 408.5,915.6 408.5,913.5 408.6,911.5 408.6,909.5 408.7,907.5 408.8,905.4 408.9,903.4 408.9,901.4 409.0,899.4 409.1,897.3 409.2,895.3 409.2,893.3 409.3,891.3 409.4,889.2 409.5,887.2 409.6,885.2 409.7,883.2 409.8,881.2 409.9,879.1 410.0,877.1 410.1,875.1 410.2,873.1 410.4,871.0 410.5,869.0 410.6,867.0 410.7,865.0 410.9,863.0 411.0,860.9 411.1,858.9 411.3,856.9 411.4,854.9 411.6,852.9 411.7,850.9 411.9,848.8 412.1,846.8 412.2,844.8 412.4,842.8 412.6,840.8 412.8,838.8 413.0,836.8 413.2,834.8 413.4,832.8 413.6,830.8 413.8,828.8 414.0,826.7 414.2,824.7 414.4,822.7 414.7,820.7 414.9,818.7 415.1,816.7 415.4,814.8 415.7,812.8 415.9,810.8 416.2,808.8 416.5,806.8 416.7,804.8 417.0,802.8 417.3,800.8 417.6,798.8 417.9,796.9 418.2,794.9 418.5,792.9 418.9,790.9 419.2,788.9 419.5,787.0 419.9,785.0 420.2,783.0 420.6,781.0 421.0,779.1 421.4,777.1 421.7,775.2 422.1,773.2 422.5,771.2 422.9,769.3 423.4,767.3 423.8,765.4 424.2,763.4 424.7,761.5 425.1,759.5 425.6,757.6 426.0,755.6 426.5,753.7 427.0,751.8 427.5,749.8 428.0,747.9 428.5,746.0 429.0,744.0 429.5,742.1 430.1,740.2 430.6,738.3 431.2,736.3 431.7,734.4 432.3,732.5 432.9,730.6 433.5,728.7 434.1,726.8 434.7,724.9 435.3,723.0 435.9,721.1 436.6,719.2 437.2,717.3 437.9,715.4 438.6,713.5 439.2,711.6 439.9,709.8 440.6,707.9 441.3,706.0 442.1,704.1 442.8,702.3 443.5,700.4 L452,690 L330,600 L296,590 Z" fill="#f7f3f1" stroke="none"/>
<path d="M291.9,574.0 293.3,575.5 294.7,577.0 296.1,578.5 297.5,579.9 298.9,581.3 300.4,582.7 301.9,584.1 303.4,585.5 304.9,586.8 306.4,588.1 307.9,589.4 309.4,590.7 311.0,592.0 312.6,593.2 314.1,594.5 315.7,595.7 317.3,596.9 318.9,598.1 320.6,599.2 322.2,600.4 323.8,601.5 325.5,602.6 327.1,603.8 328.8,604.9 330.5,605.9 332.2,607.0 333.9,608.1 335.6,609.2 337.3,610.2 339.0,611.3 340.7,612.3 342.4,613.3 344.1,614.3 345.9,615.4 347.6,616.4 349.3,617.4 351.1,618.4 352.8,619.4 354.5,620.4 356.3,621.4 358.0,622.3 359.8,623.3 361.5,624.3 363.3,625.3 365.0,626.3 366.8,627.3 368.5,628.3 370.2,629.3 372.0,630.3 373.7,631.3 375.5,632.3 377.2,633.2 378.9,634.2 380.7,635.2 382.4,636.3 384.1,637.3 385.9,638.3 387.6,639.3 389.3,640.3 391.0,641.3 392.7,642.3 394.5,643.4 396.2,644.4 397.9,645.4 399.6,646.5 401.3,647.5 403.0,648.6 404.7,649.7 406.4,650.7 408.0,651.8 409.7,652.9 411.4,654.0 413.1,655.1 414.7,656.2 416.4,657.3 418.1,658.4 419.7,659.5 421.4,660.6 423.0,661.8 424.7,662.9 426.3,664.1 427.9,665.2 429.5,666.4 431.1,667.6 432.8,668.8 434.4,670.0 436.0,671.2 437.6,672.4 439.1,673.7 440.7,674.9 442.3,676.2 443.9,677.4 445.4,678.7 447.0,679.9 448.5,681.2 450.1,682.5 451.6,683.8 453.2,685.1 454.7,686.4 456.2,687.7 457.7,689.0 459.3,690.4 460.8,691.7 462.3,693.0 463.8,694.4 465.3,695.7 466.7,697.1 468.2,698.4 469.7,699.8 471.2,701.2 472.7,702.5 474.1,703.9 475.6,705.3 477.0,706.7 478.5,708.1 479.9,709.5 481.4,710.9 482.8,712.3 484.2,713.7 485.7,715.1 487.1,716.5 488.5,717.9 489.9,719.4 491.3,720.8 492.7,722.2 494.1,723.7 495.5,725.1 496.9,726.6 498.3,728.0 499.7,729.5 501.0,731.0 502.4,732.4 503.8,733.9 505.1,735.4 506.5,736.8 507.9,738.3 509.2,739.8 510.6,741.3 511.9,742.8 513.2,744.3 514.6,745.8 515.9,747.3 517.2,748.8 518.5,750.3 519.9,751.8 521.2,753.3 522.5,754.9 523.8,756.4 525.1,757.9 526.4,759.4 527.7,761.0 529.0,762.5 530.3,764.0 531.5,765.6 532.8,767.1 534.1,768.7 535.4,770.2 536.6,771.8 537.9,773.4 539.2,774.9 540.4,776.5 541.7,778.0 542.9,779.6 544.2,781.2 545.4,782.8 546.7,784.3 547.9,785.9 549.1,787.5 550.4,789.1 551.6,790.7 552.8,792.2 554.0,793.8 555.2,795.4 556.5,797.0 557.7,798.6 558.9,800.2 560.1,801.8 561.3,803.4 562.5,805.0 563.7,806.6 564.9,808.3 566.1,809.9 567.2,811.5 568.4,813.1 569.6,814.7 570.8,816.3 572.0,817.9 573.1,819.6 574.3,821.2 575.5,822.8 576.6,824.4 577.8,826.1 579.0,827.7 580.1,829.3 581.3,831.0 582.4,832.6 583.6,834.2 584.7,835.9 585.9,837.5 587.0,839.1 588.1,840.8 589.3,842.4 590.4,844.1 591.6,845.7 592.7,847.3 593.8,849.0 595.0,850.6 596.1,852.3 597.2,853.9 598.3,855.6 599.5,857.2 600.6,858.9 601.7,860.5 602.8,862.2 604.0,863.8 605.1,865.5 606.2,867.1 607.3,868.8 608.5,870.4 609.6,872.1 610.7,873.8 611.8,875.4 612.9,877.1 614.0,878.7 615.2,880.4 616.3,882.0 617.4,883.7 618.5,885.4 619.6,887.0 620.7,888.7 621.9,890.4 623.0,892.0 624.1,893.7 625.2,895.3 626.3,897.0 627.5,898.7 628.6,900.3 629.7,902.0 630.8,903.7 631.9,905.3 633.1,907.0 634.2,908.6 635.3,910.3 636.5,912.0 637.6,913.6 638.7,915.3 639.8,917.0 641.0,918.6 642.1,920.3 643.2,921.9 644.4,923.6 645.5,925.3 646.7,926.9 647.8,928.6 649.0,930.3 650.1,931.9 651.3,933.6 652.4,935.2 653.6,936.9 654.7,938.6 655.9,940.2 657.0,941.9 658.2,943.5 659.4,945.2 660.5,946.9 661.7,948.5 662.9,950.2 664.1,951.8 665.3,953.5 666.4,955.1 667.6,956.8 668.8,958.4 670.0,960.1 671.2,961.7 672.4,963.4 673.6,965.0 674.8,966.6 676.1,968.3 677.3,969.9 678.5,971.5 679.8,973.1 681.0,974.7 682.3,976.3 683.6,977.8 684.9,979.4 686.2,981.0 687.5,982.5 688.8,984.0 690.1,985.5 691.4,987.0 692.8,988.5 694.2,989.9 695.5,991.4 696.9,992.8 698.4,994.2 699.8,995.6 701.2,997.0 702.7,998.3 704.2,999.6 705.7,1000.9 707.2,1002.2 708.7,1003.4 710.2,1004.6 711.8,1005.8 713.4,1007.0 715.0,1008.2 716.6,1009.3 718.2,1010.4 719.9,1011.5 721.5,1012.5 723.2,1013.6 724.9,1014.6 726.6,1015.6 728.3,1016.6 730.1,1017.5 731.8,1018.5 733.6,1019.4 735.3,1020.3 737.1,1021.1 738.9,1022.0 740.7,1022.8 742.5,1023.7 744.4,1024.5 746.2,1025.2 748.0,1026.0 749.9,1026.8 751.7,1027.5 753.6,1028.2 755.5,1028.9 757.4,1029.6 759.3,1030.2 761.2,1030.9 763.1,1031.5 765.0,1032.2 766.9,1032.8 768.8,1033.4 770.7,1033.9 772.7,1034.5 774.6,1035.1 776.5,1035.6 778.5,1036.1 780.4,1036.6 782.4,1037.1 784.3,1037.6 786.3,1038.1 788.2,1038.6 790.2,1039.0 792.1,1039.5 794.1,1039.9 796.0,1040.3 798.0,1040.7 800.0,1041.1 801.9,1041.5 803.9,1041.9 805.9,1042.3 807.9,1042.6 809.8,1043.0 811.8,1043.3 813.8,1043.6 815.8,1043.9 817.8,1044.2 819.7,1044.5 821.7,1044.8 823.7,1045.1 825.7,1045.3 827.7,1045.6 829.7,1045.8 831.7,1046.1 833.7,1046.3 835.7,1046.5 837.7,1046.7 839.7,1046.9 841.7,1047.1 843.7,1047.3 845.7,1047.5 847.7,1047.6 849.7,1047.8 851.7,1047.9 853.7,1048.1 855.7,1048.2 857.7,1048.3 859.7,1048.4 861.8,1048.5 863.8,1048.6 865.8,1048.7 867.8,1048.8 869.8,1048.9 871.8,1049.0 873.8,1049.0 875.9,1049.1 877.9,1049.1 879.9,1049.2 881.9,1049.2 883.9,1049.2 885.9,1049.3 888.0,1049.3 890.0,1049.3 892.0,1049.3 894.0,1049.3 896.0,1049.3 898.1,1049.3 900.1,1049.3 902.1,1049.3 904.1,1049.2 906.1,1049.2 908.2,1049.2 910.2,1049.1 912.2,1049.1 914.2,1049.0 916.2,1049.0 918.2,1048.9 920.3,1048.8 922.3,1048.8 924.3,1048.7 926.3,1048.6 928.3,1048.5 930.3,1048.4 932.4,1048.3 934.4,1048.2 936.4,1048.1 938.4,1048.0 940.4,1047.9 942.4,1047.8 944.4,1047.7 946.4,1047.6 948.4,1047.5 950.4,1047.4 952.4,1047.2 954.5,1047.1 956.5,1047.0 958.5,1046.9 960.5,1046.7 962.5,1046.6 964.5,1046.4 966.5,1046.3 968.5,1046.2 970.4,1046.0 972.4,1045.9 974.4,1045.7 976.4,1045.6 978.4,1045.4 980.4,1045.2 982.4,1045.1 984.4,1044.9 986.4,1044.7 988.4,1044.5 990.4,1044.4 992.4,1044.2 994.3,1044.0 996.3,1043.8 998.3,1043.6 1000.3,1043.4 1002.3,1043.2 1004.3,1043.0 1006.2,1042.8 1008.2,1042.6 1010.2,1042.4 1012.2,1042.2 1014.2,1042.0 1016.2,1041.8 1018.1,1041.5 1020.1,1041.3 1022.1,1041.1 1024.1,1040.8 1026.1,1040.6 1028.0,1040.4 1030.0,1040.1 1032.0,1039.9 1034.0,1039.6 1035.9,1039.3 1037.9,1039.1 1039.9,1038.8 1041.9,1038.6 1043.9,1038.3 1045.8,1038.0 1047.8,1037.7 1049.8,1037.4 1051.8,1037.2 1053.7,1036.9 1055.7,1036.6 1057.7,1036.3 1059.7,1036.0 1061.6,1035.7 1063.6,1035.3 1065.6,1035.0 1067.6,1034.7 1069.5,1034.4 1071.5,1034.1 1073.5,1033.7 1075.5,1033.4 1077.5,1033.0 1079.4,1032.7 1081.4,1032.4 1083.4,1032.0 1085.4,1031.6 1087.3,1031.3 1089.3,1030.9 1091.3,1030.5 1093.3,1030.2 1095.3,1029.8 1097.2,1029.4 1099.2,1029.0 1101.2,1028.6 1103.2,1028.2 1105.2,1027.8 1107.1,1027.4 1109.1,1027.0 1111.1,1026.6 1113.1,1026.2 1115.1,1025.7 1117.1,1025.3 1119.0,1024.9 1121.0,1024.4 1123.0,1024.0 1125.0,1023.5 1127.0,1023.1 1129.0,1022.6 1130.9,1022.1 1132.9,1021.7 1134.9,1021.2 1136.9,1020.7 1138.9,1020.2 1140.8,1019.7 1142.8,1019.2 1144.8,1018.6 1146.7,1018.1 1148.7,1017.5 1150.6,1017.0 1152.6,1016.4 1154.5,1015.8 1156.4,1015.2 1158.4,1014.6 1160.3,1014.0 1162.2,1013.3 1164.1,1012.7 1166.0,1012.0 1167.9,1011.3 1169.8,1010.6 1171.6,1009.9 1173.5,1009.1 1175.3,1008.4 1177.2,1007.6 1179.0,1006.8 1180.8,1006.0 1182.6,1005.2 1184.4,1004.3 1186.2,1003.4 1187.9,1002.6 1189.7,1001.6 1191.4,1000.7 1193.1,999.7 1194.8,998.8 1196.5,997.8 1198.2,996.7 1199.9,995.7 1201.5,994.6 1203.1,993.5 1204.8,992.4 1206.3,991.2 1207.9,990.0 1209.5,988.8 1211.0,987.6 1212.5,986.3 1214.0,985.0 1215.5,983.7 L1216.7,984.7 1215.3,986.1 1213.9,987.6 1212.5,988.9 1211.0,990.3 1209.6,991.6 1208.1,992.9 1206.6,994.2 1205.0,995.4 1203.5,996.7 1201.9,997.9 1200.4,999.0 1198.8,1000.2 1197.2,1001.3 1195.5,1002.4 1193.9,1003.5 1192.2,1004.5 1190.5,1005.5 1188.8,1006.5 1187.1,1007.5 1185.4,1008.5 1183.7,1009.4 1181.9,1010.3 1180.2,1011.2 1178.4,1012.1 1176.6,1012.9 1174.8,1013.8 1173.0,1014.6 1171.2,1015.4 1169.3,1016.2 1167.5,1016.9 1165.6,1017.7 1163.8,1018.4 1161.9,1019.1 1160.0,1019.8 1158.1,1020.5 1156.2,1021.2 1154.3,1021.9 1152.4,1022.5 1150.5,1023.1 1148.6,1023.8 1146.6,1024.4 1144.7,1025.0 1142.8,1025.6 1140.8,1026.1 1138.9,1026.7 1136.9,1027.2 1135.0,1027.8 1133.0,1028.3 1131.0,1028.9 1129.1,1029.4 1127.1,1029.9 1125.1,1030.4 1123.2,1030.9 1121.2,1031.4 1119.2,1031.9 1117.2,1032.3 1115.3,1032.8 1113.3,1033.3 1111.3,1033.8 1109.4,1034.2 1107.4,1034.7 1105.4,1035.1 1103.4,1035.6 1101.5,1036.0 1099.5,1036.4 1097.5,1036.8 1095.5,1037.3 1093.6,1037.7 1091.6,1038.1 1089.6,1038.5 1087.6,1038.9 1085.7,1039.3 1083.7,1039.7 1081.7,1040.1 1079.7,1040.4 1077.7,1040.8 1075.8,1041.2 1073.8,1041.5 1071.8,1041.9 1069.8,1042.3 1067.9,1042.6 1065.9,1042.9 1063.9,1043.3 1061.9,1043.6 1059.9,1043.9 1058.0,1044.3 1056.0,1044.6 1054.0,1044.9 1052.0,1045.2 1050.0,1045.5 1048.1,1045.8 1046.1,1046.1 1044.1,1046.4 1042.1,1046.7 1040.1,1047.0 1038.2,1047.3 1036.2,1047.5 1034.2,1047.8 1032.2,1048.1 1030.2,1048.3 1028.2,1048.6 1026.3,1048.8 1024.3,1049.1 1022.3,1049.3 1020.3,1049.5 1018.3,1049.8 1016.3,1050.0 1014.3,1050.2 1012.4,1050.5 1010.4,1050.7 1008.4,1050.9 1006.4,1051.1 1004.4,1051.3 1002.4,1051.5 1000.4,1051.7 998.5,1051.9 996.5,1052.1 994.5,1052.3 992.5,1052.4 990.5,1052.6 988.5,1052.8 986.5,1052.9 984.5,1053.1 982.6,1053.3 980.6,1053.4 978.6,1053.6 976.6,1053.7 974.6,1053.9 972.6,1054.0 970.6,1054.2 968.6,1054.3 966.6,1054.4 964.6,1054.5 962.6,1054.7 960.7,1054.8 958.7,1054.9 956.7,1055.0 954.7,1055.1 952.7,1055.2 950.7,1055.3 948.7,1055.4 946.7,1055.5 944.7,1055.6 942.7,1055.7 940.7,1055.8 938.7,1055.9 936.7,1056.0 934.7,1056.0 932.7,1056.1 930.7,1056.2 928.7,1056.2 926.7,1056.3 924.7,1056.4 922.7,1056.4 920.7,1056.5 918.8,1056.5 916.8,1056.6 914.8,1056.6 912.8,1056.7 910.8,1056.7 908.8,1056.7 906.8,1056.8 904.8,1056.8 902.8,1056.8 900.8,1056.9 898.8,1056.9 896.7,1056.9 894.7,1056.9 892.7,1056.9 890.7,1056.9 888.7,1056.9 886.7,1057.0 884.7,1057.0 882.7,1057.0 880.7,1057.0 878.7,1057.0 876.7,1057.0 874.7,1056.9 872.7,1056.9 870.7,1056.9 868.7,1056.9 866.7,1056.9 864.7,1056.9 862.7,1056.8 860.7,1056.8 858.7,1056.8 856.7,1056.8 854.6,1056.7 852.6,1056.7 850.6,1056.6 848.6,1056.6 846.6,1056.6 844.6,1056.5 842.6,1056.4 840.6,1056.4 838.6,1056.3 836.6,1056.2 834.6,1056.2 832.5,1056.1 830.5,1056.0 828.5,1055.9 826.5,1055.8 824.5,1055.7 822.5,1055.6 820.5,1055.5 818.5,1055.3 816.5,1055.2 814.5,1055.1 812.5,1054.9 810.4,1054.8 808.4,1054.6 806.4,1054.5 804.4,1054.3 802.4,1054.1 800.4,1053.9 798.4,1053.7 796.4,1053.5 794.4,1053.3 792.4,1053.1 790.4,1052.9 788.3,1052.6 786.3,1052.4 784.3,1052.1 782.3,1051.8 780.3,1051.6 778.3,1051.3 776.3,1051.0 774.3,1050.7 772.3,1050.3 770.3,1050.0 768.3,1049.6 766.3,1049.3 764.3,1048.9 762.3,1048.5 760.4,1048.1 758.4,1047.7 756.4,1047.2 754.5,1046.8 752.5,1046.3 750.6,1045.8 748.6,1045.3 746.7,1044.8 744.8,1044.2 742.9,1043.6 741.0,1043.1 739.1,1042.4 737.2,1041.8 735.3,1041.1 733.5,1040.5 731.6,1039.8 729.8,1039.0 728.0,1038.3 726.2,1037.5 724.4,1036.7 722.6,1035.9 720.8,1035.0 719.1,1034.1 717.3,1033.2 715.6,1032.2 713.9,1031.3 712.2,1030.3 710.5,1029.2 708.9,1028.2 707.3,1027.1 705.6,1025.9 704.0,1024.8 702.5,1023.6 700.9,1022.4 699.4,1021.1 697.8,1019.9 696.3,1018.6 694.8,1017.3 693.3,1015.9 691.9,1014.6 690.4,1013.2 689.0,1011.8 687.6,1010.3 686.2,1008.9 684.8,1007.4 683.4,1006.0 682.0,1004.5 680.6,1003.0 679.3,1001.5 677.9,999.9 676.6,998.4 675.3,996.8 674.0,995.3 672.7,993.7 671.4,992.1 670.1,990.6 668.8,989.0 667.6,987.4 666.3,985.8 665.1,984.2 663.8,982.7 662.6,981.1 661.3,979.5 660.1,977.9 658.9,976.3 657.7,974.7 656.5,973.1 655.3,971.5 654.1,969.9 652.9,968.3 651.7,966.6 650.5,965.0 649.4,963.4 648.2,961.8 647.0,960.2 645.9,958.6 644.7,956.9 643.6,955.3 642.4,953.7 641.3,952.0 640.1,950.4 639.0,948.8 637.9,947.1 636.7,945.5 635.6,943.8 634.5,942.2 633.4,940.5 632.2,938.9 631.1,937.2 630.0,935.6 628.9,933.9 627.8,932.3 626.7,930.6 625.6,928.9 624.5,927.3 623.4,925.6 622.3,923.9 621.2,922.3 620.1,920.6 619.0,918.9 617.9,917.2 616.8,915.5 615.7,913.9 614.6,912.2 613.5,910.5 612.4,908.8 611.4,907.1 610.3,905.5 609.2,903.8 608.1,902.1 607.0,900.4 605.9,898.7 604.8,897.0 603.8,895.3 602.7,893.6 601.6,891.9 600.5,890.3 599.4,888.6 598.3,886.9 597.3,885.2 596.2,883.5 595.1,881.8 594.0,880.1 592.9,878.4 591.8,876.7 590.7,875.0 589.6,873.4 588.6,871.7 587.5,870.0 586.4,868.3 585.3,866.6 584.2,864.9 583.1,863.2 582.0,861.6 580.9,859.9 579.8,858.2 578.7,856.5 577.6,854.8 576.5,853.2 575.3,851.5 574.2,849.8 573.1,848.2 572.0,846.5 570.9,844.8 569.8,843.2 568.6,841.5 567.5,839.8 566.4,838.2 565.2,836.5 564.1,834.9 563.0,833.2 561.8,831.6 560.7,829.9 559.5,828.3 558.4,826.6 557.2,825.0 556.0,823.4 554.9,821.7 553.7,820.1 552.5,818.5 551.4,816.9 550.2,815.3 549.0,813.6 547.8,812.0 546.6,810.4 545.4,808.8 544.2,807.2 543.0,805.6 541.8,804.0 540.6,802.4 539.3,800.9 538.1,799.3 536.9,797.7 535.6,796.1 534.4,794.6 533.1,793.0 531.9,791.5 530.6,789.9 529.4,788.3 528.1,786.8 526.8,785.3 525.6,783.7 524.3,782.2 523.0,780.7 521.7,779.1 520.4,777.6 519.1,776.1 517.8,774.6 516.5,773.1 515.2,771.6 513.9,770.0 512.5,768.5 511.2,767.1 509.9,765.6 508.6,764.1 507.2,762.6 505.9,761.1 504.5,759.6 503.2,758.2 501.8,756.7 500.5,755.2 499.1,753.7 497.7,752.3 496.4,750.8 495.0,749.4 493.6,747.9 492.2,746.5 490.8,745.0 489.5,743.6 488.1,742.2 486.7,740.7 485.3,739.3 483.9,737.9 482.5,736.4 481.0,735.0 479.6,733.6 478.2,732.2 476.8,730.8 475.4,729.4 473.9,728.0 472.5,726.6 471.1,725.2 469.6,723.8 468.2,722.4 466.8,721.0 465.3,719.6 463.9,718.2 462.4,716.9 461.0,715.5 459.5,714.1 458.1,712.7 456.6,711.4 455.1,710.0 453.7,708.6 452.2,707.3 450.7,705.9 449.2,704.6 447.8,703.2 446.3,701.9 444.8,700.5 443.3,699.2 441.8,697.8 440.3,696.5 438.8,695.2 437.3,693.8 435.8,692.5 434.3,691.2 432.8,689.9 431.3,688.5 429.8,687.2 428.3,685.9 426.8,684.6 425.3,683.3 423.8,682.0 422.3,680.7 420.8,679.4 419.2,678.1 417.7,676.8 416.2,675.5 414.6,674.2 413.1,672.9 411.6,671.6 410.0,670.4 408.5,669.1 406.9,667.8 405.4,666.6 403.8,665.3 402.2,664.1 400.7,662.8 399.1,661.6 397.5,660.4 395.9,659.2 394.3,657.9 392.7,656.7 391.1,655.5 389.5,654.3 387.9,653.2 386.3,652.0 384.7,650.8 383.1,649.6 381.4,648.5 379.8,647.3 378.1,646.2 376.5,645.1 374.8,644.0 373.1,642.9 371.5,641.8 369.8,640.7 368.1,639.6 366.4,638.5 364.7,637.5 363.0,636.4 361.3,635.4 359.5,634.3 357.8,633.3 356.0,632.3 354.3,631.3 352.5,630.3 350.8,629.3 349.0,628.4 347.2,627.4 345.5,626.4 343.7,625.4 341.9,624.5 340.1,623.5 338.4,622.5 336.6,621.6 334.8,620.6 333.0,619.6 331.3,618.7 329.5,617.7 327.7,616.7 326.0,615.7 324.2,614.8 322.5,613.8 320.8,612.8 319.0,611.7 317.3,610.7 315.6,609.7 313.9,608.6 312.3,607.5 310.6,606.4 309.0,605.3 307.4,604.1 305.9,603.0 304.4,601.7 302.9,600.5 301.5,599.2 300.2,597.8 298.9,596.4 297.6,595.0 296.4,593.5 295.3,592.0 294.3,590.4 293.3,588.7 292.4,587.0 291.5,585.2 290.8,583.4 290.1,581.4 289.5,579.5 289.0,577.4 Z" fill="#565050" stroke="#4f4848" stroke-width="1"/>
<path d="M289.7,575.7 291.1,574.0 292.7,572.6 294.3,571.4 296.1,570.4 298.0,569.7 299.9,569.1 301.9,568.7 304.0,568.5 306.1,568.3 308.2,568.3 310.4,568.3 312.6,568.4 314.7,568.6 316.9,568.8 319.1,569.1 321.2,569.4 323.4,569.8 325.5,570.2 327.7,570.7 329.8,571.2 331.9,571.8 334.0,572.3 336.1,572.9 338.1,573.5 340.1,574.1 342.1,574.7 344.0,575.3 345.9,575.9" fill="none" stroke="#4d4646" stroke-width="3"/>
<path d="M301.1,599.4 301.9,601.3 302.7,603.2 303.4,605.0 304.2,606.9 304.9,608.8 305.6,610.7 306.4,612.6 307.1,614.5 307.8,616.4 308.5,618.3 309.2,620.1 309.9,622.0 310.6,623.9 311.3,625.8 312.0,627.7 312.6,629.7 313.3,631.6 313.9,633.5 314.6,635.4 315.2,637.3 315.9,639.2 316.5,641.1 317.1,643.0 317.8,644.9 318.4,646.9 319.0,648.8 319.6,650.7 320.2,652.6 320.8,654.6 321.3,656.5 321.9,658.4 322.5,660.3 323.1,662.3 323.6,664.2 324.2,666.1 324.7,668.1 325.3,670.0 325.8,672.0 326.4,673.9 326.9,675.8 327.4,677.8 327.9,679.7 328.4,681.7 328.9,683.6 329.4,685.6 329.9,687.5 330.4,689.5 330.9,691.4 331.4,693.4 331.9,695.3 332.3,697.3 332.8,699.2 333.3,701.2 333.7,703.2 334.2,705.1 334.6,707.1 335.1,709.1 335.5,711.0 335.9,713.0 336.4,714.9 336.8,716.9 337.2,718.9 337.6,720.9 338.0,722.8 338.4,724.8 338.8,726.8 339.2,728.8 339.6,730.7 340.0,732.7 340.4,734.7 340.7,736.7 341.1,738.6 341.5,740.6 341.8,742.6 342.2,744.6 342.6,746.6 342.9,748.6 343.3,750.6 343.6,752.5 343.9,754.5 344.3,756.5 344.6,758.5 344.9,760.5 345.2,762.5 345.6,764.5 345.9,766.5 346.2,768.5 346.5,770.5 346.8,772.5 347.1,774.5 347.4,776.5 347.7,778.5 348.0,780.5 348.2,782.4 348.5,784.5 348.8,786.5 349.1,788.5 349.3,790.5 349.6,792.5 349.9,794.5 350.1,796.5 350.4,798.5 350.6,800.5 350.9,802.5 351.1,804.5 351.4,806.5 351.6,808.5 351.9,810.5 352.1,812.5 352.3,814.5 352.5,816.5 352.8,818.6 353.0,820.6 353.2,822.6 353.4,824.6 353.6,826.6 353.8,828.6 354.1,830.6 354.3,832.6 354.5,834.6 354.7,836.7 354.9,838.7 355.0,840.7 355.2,842.7 355.4,844.7 355.6,846.7 355.8,848.8 356.0,850.8 356.1,852.8 356.3,854.8 356.5,856.8 356.7,858.8 356.8,860.9 357.0,862.9 357.2,864.9 357.3,866.9 357.5,868.9 357.6,870.9 357.8,873.0 358.0,875.0 358.1,877.0 358.3,879.0 358.4,881.0 358.5,883.1 358.7,885.1 358.8,887.1 359.0,889.1 359.1,891.1 359.2,893.2 359.4,895.2 359.5,897.2 359.6,899.2 359.8,901.2 359.9,903.3 360.0,905.3 360.2,907.3 360.3,909.3 360.4,911.3 360.5,913.3 360.6,915.4 360.8,917.4 360.9,919.4 361.0,921.4 361.1,923.4 361.2,925.5 361.3,927.5 361.4,929.5 361.5,931.5 361.6,933.5 361.8,935.5 361.9,937.6 362.0,939.6 362.1,941.6 362.2,943.6 362.3,945.6 362.4,947.6 362.5,949.6 362.6,951.7 362.7,953.7 362.8,955.7 362.9,957.7 363.0,959.7 363.1,961.7 363.2,963.7 363.3,965.7 363.3,967.8 363.4,969.8 363.5,971.8 363.6,973.8 363.7,975.8 363.8,977.8 363.9,979.8 364.0,981.8 364.1,983.8 364.2,985.8 364.3,987.8 364.4,989.8 364.5,991.8 364.5,993.8 364.6,995.8 364.7,997.8 364.8,999.8 364.9,1001.8 365.0,1003.8 365.1,1005.8 365.2,1007.8 365.3,1009.8 365.4,1011.8 365.5,1013.8 365.6,1015.8 L405.7,1015.9 405.8,1013.9 405.9,1011.9 406.0,1009.9 406.0,1008.0 406.1,1006.0 406.2,1004.0 406.2,1002.0 406.3,1000.0 406.4,998.0 406.4,996.0 406.5,994.0 406.6,992.0 406.6,990.1 406.7,988.1 406.7,986.1 406.8,984.1 406.8,982.1 406.9,980.1 406.9,978.1 407.0,976.1 407.0,974.1 407.1,972.0 407.1,970.0 407.2,968.0 407.2,966.0 407.3,964.0 407.3,962.0 407.4,960.0 407.4,958.0 407.5,956.0 407.5,953.9 407.5,951.9 407.6,949.9 407.6,947.9 407.7,945.9 407.7,943.9 407.8,941.8 407.8,939.8 407.9,937.8 407.9,935.8 408.0,933.8 408.0,931.7 408.1,929.7 408.1,927.7 408.2,925.7 408.2,923.7 408.3,921.6 408.3,919.6 408.4,917.6 408.5,915.6 408.5,913.5 408.6,911.5 408.6,909.5 408.7,907.5 408.8,905.4 408.9,903.4 408.9,901.4 409.0,899.4 409.1,897.3 409.2,895.3 409.2,893.3 409.3,891.3 409.4,889.2 409.5,887.2 409.6,885.2 409.7,883.2 409.8,881.2 409.9,879.1 410.0,877.1 410.1,875.1 410.2,873.1 410.4,871.0 410.5,869.0 410.6,867.0 410.7,865.0 410.9,863.0 411.0,860.9 411.1,858.9 411.3,856.9 411.4,854.9 411.6,852.9 411.7,850.9 411.9,848.8 412.1,846.8 412.2,844.8 412.4,842.8 412.6,840.8 412.8,838.8 413.0,836.8 413.2,834.8 413.4,832.8 413.6,830.8 413.8,828.8 414.0,826.7 414.2,824.7 414.4,822.7 414.7,820.7 414.9,818.7 415.1,816.7 415.4,814.8 415.7,812.8 415.9,810.8 416.2,808.8 416.5,806.8 416.7,804.8 417.0,802.8 417.3,800.8 417.6,798.8 417.9,796.9 418.2,794.9 418.5,792.9 418.9,790.9 419.2,788.9 419.5,787.0 419.9,785.0 420.2,783.0 420.6,781.0 421.0,779.1 421.4,777.1 421.7,775.2 422.1,773.2 422.5,771.2 422.9,769.3 423.4,767.3 423.8,765.4 424.2,763.4 424.7,761.5 425.1,759.5 425.6,757.6 426.0,755.6 426.5,753.7 427.0,751.8 427.5,749.8 428.0,747.9 428.5,746.0 429.0,744.0 429.5,742.1 430.1,740.2 430.6,738.3 431.2,736.3 431.7,734.4 432.3,732.5 432.9,730.6 433.5,728.7 434.1,726.8 434.7,724.9 435.3,723.0 435.9,721.1 436.6,719.2 437.2,717.3 437.9,715.4 438.6,713.5 439.2,711.6 439.9,709.8 440.6,707.9 441.3,706.0 442.1,704.1 442.8,702.3 443.5,700.4" fill="none" stroke="#4d4646" stroke-width="3.2"/>
<path d="M363.8,1010 Q385.5,1019 407.2,1010 L407.2,1031 Q385.5,1038 363.8,1031 Z" fill="#565050" stroke="#4d4646" stroke-width="1.2"/>
<path d="M752.2,876.2 752.4,874.6 752.9,873.1 753.4,871.7 754.1,870.2 755.0,868.8 756.0,867.4 757.0,866.1 758.2,864.7 759.5,863.4 760.9,862.1 762.3,860.9 763.9,859.6 765.5,858.4 767.2,857.2 768.9,856.0 770.7,854.8 772.5,853.7 774.4,852.6 776.3,851.5 778.2,850.4 780.1,849.3 782.0,848.3 783.9,847.2 785.8,846.2 787.7,845.2 789.6,844.2 791.5,843.3 793.4,842.3 795.3,841.4 797.2,840.5 799.0,839.6 800.9,838.7 802.8,837.8 804.7,837.0 806.6,836.2 808.5,835.3 810.3,834.5 812.2,833.7 814.1,833.0 816.0,832.2 817.9,831.5 819.7,830.8 821.6,830.1 823.5,829.4 825.4,828.7 827.3,828.0 829.2,827.4 831.1,826.8 832.9,826.1 834.8,825.5 836.7,825.0 838.6,824.4 840.6,823.8 842.5,823.3 844.4,822.8 846.3,822.3 848.2,821.8 850.2,821.3 852.1,820.8 854.0,820.4 856.0,820.0 857.9,819.6 859.9,819.2 861.8,818.8 863.8,818.4 865.8,818.0 867.7,817.7 869.7,817.4 871.7,817.1 873.7,816.8 875.6,816.5 877.6,816.3 879.6,816.0 881.6,815.8 883.6,815.6 885.6,815.4 887.6,815.2 889.6,815.1 891.6,814.9 893.6,814.8 895.6,814.7 897.6,814.6 899.6,814.6 901.6,814.5 903.6,814.5 905.6,814.5 907.6,814.5 909.6,814.5 911.6,814.6 913.6,814.6 915.6,814.7 917.6,814.8 919.5,815.0 921.5,815.1 923.5,815.3 925.5,815.4 927.5,815.6 929.5,815.9 931.4,816.1 933.4,816.4 935.4,816.7 937.4,817.0 939.3,817.3 941.3,817.6 943.2,818.0 945.2,818.4 947.1,818.8 949.1,819.3 951.0,819.7 952.9,820.2 954.9,820.7 956.8,821.2 958.7,821.8 960.6,822.3 962.5,822.9 964.4,823.5 966.3,824.1 968.2,824.8 970.1,825.5 971.9,826.2 973.8,826.9 975.6,827.7 977.5,828.4 979.3,829.2 981.1,830.0 983.0,830.9 984.8,831.8 986.6,832.6 988.4,833.6 990.1,834.5 991.9,835.5 993.7,836.4 995.4,837.5 997.2,838.5 998.9,839.5 1000.6,840.6 1002.3,841.7 1004.0,842.9 1005.7,844.0 1007.4,845.2 1009.0,846.4 1010.7,847.7 1012.3,848.9 1013.9,850.2 1015.6,851.5 1017.1,852.8 1018.7,854.2 1020.3,855.6 1021.9,857.0 1023.4,858.4 1024.9,859.9 1026.4,861.4 1027.9,862.9 1029.4,864.5 1030.9,866.0 1032.3,867.6 1033.8,869.3 1035.2,870.9 1036.6,872.6 1038.0,874.3 1039.3,876.0 1040.6,877.7 1041.9,879.4 1043.2,881.1 1044.4,882.8 1045.5,884.5 1046.7,886.3 1047.7,888.0 1048.8,889.7 1049.7,891.3 1050.6,893.0 1051.5,894.6 1052.3,896.2 1053.0,897.8 1053.7,899.4 1054.2,900.9 1054.8,902.4 1055.2,903.8 1055.5,905.2 1055.8,906.5 1056.0,907.8 1056.1,909.1 1056.1,910.3 1056.0,911.4 1055.9,912.5 1055.6,913.5 1055.3,914.5 1054.9,915.4 1054.4,916.3 1053.8,917.1 1053.1,917.9 1052.4,918.7 1051.6,919.4 1050.7,920.0 1049.8,920.6 1048.8,921.2 1047.7,921.7 1046.5,922.2 1045.3,922.7 1044.0,923.1 1042.7,923.5 1041.3,923.8 1039.8,924.1 1038.2,924.4 1036.7,924.6 1035.0,924.8 1033.3,925.0 1031.5,925.2 1029.7,925.3 1027.8,925.4 1025.9,925.4 1023.9,925.5 1021.9,925.5 1019.9,925.5 1017.8,925.4 1015.6,925.4 1013.4,925.3 1011.2,925.2 1008.9,925.1 1006.6,924.9 1004.2,924.8 1001.8,924.6 999.4,924.4 996.9,924.2 994.4,924.0 991.9,923.8 989.3,923.5 986.8,923.3 984.2,923.0 981.5,922.7 978.9,922.4 976.2,922.2 973.5,921.9 970.7,921.6 968.0,921.3 965.2,921.0 962.5,920.6 959.7,920.3 956.9,920.0 954.0,919.7 951.2,919.4 948.4,919.1 945.5,918.8 942.7,918.5 939.8,918.2 936.9,917.9 934.1,917.6 931.2,917.4 928.3,917.1 925.5,916.9 922.6,916.6 919.7,916.4 916.9,916.2 914.0,916.0 911.2,915.8 908.3,915.6 905.5,915.5 902.7,915.3 899.9,915.2 897.1,915.1 894.3,915.0 891.6,915.0 888.8,914.9 886.1,914.9 883.4,914.9 880.7,914.9 878.0,914.9 875.3,914.9 872.7,914.9 870.1,914.9 867.4,915.0 864.9,915.0 862.3,915.1 859.7,915.2 857.2,915.2 854.7,915.3 852.2,915.4 849.7,915.4 847.2,915.5 844.8,915.6 842.4,915.6 840.0,915.7 837.6,915.8 835.3,915.8 833.0,915.8 830.7,915.9 828.4,915.9 826.1,915.9 823.9,915.9 821.7,915.9 819.5,915.9 817.4,915.9 815.2,915.8 813.1,915.7 811.0,915.6 809.0,915.5 807.0,915.4 805.0,915.3 803.0,915.1 801.1,914.9 799.1,914.7 797.2,914.4 795.4,914.2 793.6,913.9 791.8,913.6 790.0,913.2 788.3,912.8 786.5,912.4 784.9,912.0 783.2,911.5 781.6,911.0 780.0,910.4 778.5,909.8 776.9,909.2 775.5,908.5 774.0,907.8 772.6,907.1 771.2,906.3 769.9,905.4 768.5,904.6 767.3,903.6 766.0,902.7 764.8,901.7 763.6,900.6 762.5,899.5 761.4,898.3 760.3,897.1 759.3,895.8 758.3,894.5 757.4,893.1 756.5,891.7 755.6,890.2 754.8,888.7 754.1,887.2 753.5,885.6 753.0,884.0 752.5,882.4 752.2,880.8 752.1,879.3 752.0,877.7 752.2,876.2 Z" fill="#c9bebc" stroke="#6a6060" stroke-width="2.6"/>
<path d="M1150.0,969.0 1152.0,969.2 1154.1,969.4 1156.2,969.6 1158.2,969.8 1160.3,970.0 1162.4,970.1 1164.5,970.3 1166.6,970.5 1168.7,970.7 1170.8,970.9 1172.9,971.1 1175.0,971.4 1177.1,971.6 1179.2,971.9 1181.3,972.2 1183.4,972.5 1185.4,972.8 1187.5,973.2 1189.6,973.6 1191.6,974.1 1193.7,974.5 1195.7,975.1 1197.7,975.6 1199.7,976.2 1201.7,976.9 1203.6,977.6 1205.6,978.3 1207.5,979.2 1209.4,980.0 1211.3,981.0 1213.2,981.9 1215.0,983.0" fill="none" stroke="#4d4646" stroke-width="3"/>
<path d="M736.3,984.6 735.6,985.6 735.3,986.7 735.3,988.0 735.6,989.3 736.1,990.6 736.9,992.0 737.8,993.4 738.8,994.7 740.0,996.0 741.3,997.3 742.7,998.4 744.2,999.5 745.7,1000.5 747.3,1001.4 749.0,1002.2 750.7,1003.0 752.5,1003.7 754.4,1004.4 756.3,1005.0 758.2,1005.6 760.2,1006.1 762.2,1006.6 764.3,1007.0 766.4,1007.4 768.5,1007.8 770.6,1008.1 772.8,1008.5 774.9,1008.8 777.1,1009.1 779.2,1009.4 781.4,1009.7 783.5,1010.0 785.7,1010.3 787.8,1010.6 789.9,1010.9 792.1,1011.2 794.2,1011.4 796.3,1011.7 798.4,1012.0 800.5,1012.3 802.6,1012.6 804.7,1012.9 806.7,1013.2 808.8,1013.4 810.9,1013.7 812.9,1014.0 815.0,1014.3 817.0,1014.6 819.1,1014.8 821.1,1015.1 823.2,1015.4 825.2,1015.7 827.2,1015.9 829.3,1016.2 831.3,1016.5 833.3,1016.7 835.3,1017.0 837.3,1017.2 839.3,1017.5 841.3,1017.7 843.3,1018.0 845.3,1018.2 847.3,1018.5 849.3,1018.7 851.3,1019.0 853.3,1019.2 855.2,1019.4 857.2,1019.7 859.2,1019.9 861.2,1020.1 863.1,1020.3 865.1,1020.6 867.1,1020.8 869.0,1021.0 871.0,1021.2 873.0,1021.4 874.9,1021.6 876.9,1021.8 878.8,1022.0 880.8,1022.1 882.7,1022.3 884.7,1022.5 886.7,1022.7 888.6,1022.8 890.6,1023.0 892.5,1023.2 894.5,1023.3 896.4,1023.5 898.4,1023.6 900.3,1023.7 902.3,1023.9 904.2,1024.0 906.2,1024.1 908.2,1024.2 910.1,1024.3 912.1,1024.4 914.0,1024.5 916.0,1024.6 917.9,1024.7 919.9,1024.8 921.9,1024.9 923.8,1024.9 925.8,1025.0 927.8,1025.1 929.8,1025.1 931.7,1025.1 933.7,1025.2 935.7,1025.2 937.7,1025.2 939.7,1025.2 941.7,1025.3 943.7,1025.3 945.6,1025.2 947.6,1025.2 949.7,1025.2 951.7,1025.2 953.7,1025.2 955.7,1025.1 957.7,1025.1 959.7,1025.0 961.7,1024.9 963.8,1024.9 965.8,1024.8 967.8,1024.7 969.9,1024.6 971.9,1024.5 973.9,1024.4 976.0,1024.3 978.0,1024.2 980.0,1024.0 982.1,1023.9 984.1,1023.8 986.2,1023.6 988.2,1023.5 990.2,1023.3 992.3,1023.1 994.3,1022.9 996.4,1022.8 998.4,1022.6 1000.4,1022.4 1002.5,1022.2 1004.5,1022.0 1006.6,1021.7 1008.6,1021.5 1010.6,1021.3 1012.7,1021.0 1014.7,1020.8 1016.7,1020.5 1018.7,1020.3 1020.8,1020.0 1022.8,1019.7 1024.8,1019.5 1026.8,1019.2 1028.8,1018.9 1030.8,1018.6 1032.8,1018.3 1034.8,1018.0 1036.8,1017.7 1038.8,1017.3 1040.8,1017.0 1042.8,1016.7 1044.8,1016.3 1046.7,1016.0 1048.7,1015.6 1050.7,1015.2 1052.6,1014.9 1054.6,1014.5 1056.5,1014.1 1058.4,1013.7 1060.4,1013.3 1062.3,1012.9 1064.2,1012.5 1066.1,1012.1 1068.0,1011.7 1069.9,1011.3 1071.8,1010.8 1073.7,1010.4 1075.6,1010.0 1077.5,1009.5 1079.3,1009.0 1081.2,1008.6 1083.1,1008.1 1084.9,1007.6 1086.8,1007.1 1088.6,1006.6 1090.5,1006.1 1092.4,1005.6 1094.2,1005.1 1096.1,1004.5 1098.0,1004.0 1099.8,1003.4 1101.7,1002.8 1103.6,1002.2 1105.5,1001.6 1107.4,1001.0 1109.3,1000.3 1111.3,999.7 1113.2,999.0 1115.2,998.3 1117.1,997.6 1119.1,996.9 1121.1,996.1 1123.1,995.4 1125.1,994.6 1127.2,993.8 1129.2,992.9 1131.2,992.1 1133.2,991.2 1135.2,990.2 1137.1,989.2 1139.1,988.2 1141.0,987.1 1142.8,986.0 1144.6,984.8 1146.4,983.6 1148.1,982.3 1149.8,980.9 1151.4,979.5 1152.9,978.0 1154.3,976.4 1155.7,974.8 1156.9,973.2 1158.0,971.5 1158.9,969.9 1159.7,968.2 1160.2,966.6 1160.6,965.0 1160.7,963.5 1160.5,962.0 1160.1,960.6 1159.4,959.3 1158.4,958.2 1157.2,957.1 1155.8,956.1 1154.4,955.3 1152.9,954.6 1151.3,953.9 1149.7,953.4 1148.0,953.0 1146.3,952.7 1144.5,952.4 1142.7,952.3 1140.8,952.2 1138.9,952.2 1137.0,952.2 1135.0,952.3 1133.1,952.5 1131.0,952.7 1129.0,952.9 1126.9,953.2 1124.9,953.6 1122.8,953.9 1120.7,954.3 1118.6,954.7 1116.5,955.1 1114.4,955.5 1112.3,956.0 1110.3,956.4 1108.2,956.8 1106.1,957.2 1104.0,957.7 1102.0,958.1 1099.9,958.5 1097.8,959.0 1095.8,959.4 1093.7,959.9 1091.7,960.3 1089.6,960.8 1087.6,961.2 1085.5,961.7 1083.5,962.1 1081.5,962.6 1079.4,963.1 1077.4,963.5 1075.4,964.0 1073.4,964.5 1071.3,964.9 1069.3,965.4 1067.3,965.9 1065.3,966.3 1063.3,966.8 1061.3,967.3 1059.3,967.7 1057.3,968.2 1055.3,968.7 1053.3,969.1 1051.3,969.6 1049.3,970.1 1047.3,970.6 1045.4,971.0 1043.4,971.5 1041.4,972.0 1039.4,972.4 1037.4,972.9 1035.5,973.4 1033.5,973.8 1031.5,974.3 1029.5,974.7 1027.6,975.2 1025.6,975.6 1023.6,976.1 1021.7,976.5 1019.7,977.0 1017.8,977.4 1015.8,977.9 1013.9,978.3 1011.9,978.8 1009.9,979.2 1008.0,979.6 1006.0,980.0 1004.1,980.5 1002.1,980.9 1000.2,981.3 998.2,981.7 996.3,982.1 994.4,982.5 992.4,982.9 990.5,983.3 988.5,983.7 986.6,984.1 984.6,984.5 982.7,984.9 980.8,985.2 978.8,985.6 976.9,986.0 974.9,986.3 973.0,986.7 971.1,987.0 969.1,987.3 967.2,987.7 965.2,988.0 963.3,988.3 961.4,988.6 959.4,988.9 957.5,989.2 955.5,989.5 953.6,989.8 951.7,990.1 949.7,990.4 947.8,990.6 945.8,990.9 943.9,991.1 941.9,991.4 940.0,991.6 938.1,991.8 936.1,992.0 934.2,992.3 932.2,992.5 930.3,992.6 928.3,992.8 926.4,993.0 924.4,993.2 922.5,993.3 920.5,993.5 918.6,993.6 916.6,993.7 914.7,993.8 912.7,994.0 910.7,994.1 908.8,994.1 906.8,994.2 904.8,994.3 902.9,994.3 900.9,994.4 898.9,994.4 897.0,994.4 895.0,994.5 893.0,994.5 891.0,994.4 889.1,994.4 887.1,994.4 885.1,994.4 883.1,994.3 881.1,994.2 879.1,994.1 877.1,994.1 875.1,994.0 873.1,993.8 871.1,993.7 869.1,993.6 867.1,993.4 865.1,993.2 863.1,993.1 861.1,992.9 859.1,992.7 857.1,992.4 855.0,992.2 853.0,991.9 851.0,991.7 849.0,991.4 846.9,991.1 844.9,990.8 842.8,990.5 840.8,990.2 838.8,989.8 836.7,989.5 834.7,989.2 832.6,988.8 830.5,988.4 828.5,988.1 826.4,987.7 824.4,987.3 822.3,987.0 820.2,986.6 818.2,986.2 816.1,985.9 814.0,985.5 812.0,985.1 809.9,984.8 807.8,984.4 805.8,984.1 803.7,983.7 801.6,983.4 799.5,983.1 797.4,982.8 795.4,982.5 793.3,982.2 791.2,981.9 789.1,981.7 787.1,981.4 785.0,981.2 782.9,981.0 780.8,980.8 778.8,980.6 776.7,980.5 774.6,980.3 772.5,980.2 770.5,980.2 768.4,980.1 766.3,980.1 764.2,980.0 762.2,980.1 760.1,980.1 758.0,980.2 756.0,980.3 753.9,980.4 751.8,980.6 749.8,980.8 747.7,981.0 745.7,981.3 743.7,981.6 741.8,982.0 740.0,982.5 738.5,983.1 737.2,983.8 736.3,984.6 Z" fill="#cdc4c3" stroke="#4d4646" stroke-width="2.9"/>
<path d="M736.3,979.4 735.6,980.4 735.3,981.5 735.3,982.8 735.6,984.1 736.1,985.4 736.9,986.8 737.8,988.2 738.8,989.5 740.0,990.8 741.3,992.1 742.7,993.2 744.2,994.3 745.7,995.3 747.3,996.2 749.0,997.0 750.7,997.8 752.5,998.5 754.4,999.2 756.3,999.8 758.2,1000.4 760.2,1000.9 762.2,1001.4 764.3,1001.8 766.4,1002.2 768.5,1002.6 770.6,1002.9 772.8,1003.3 774.9,1003.6 777.1,1003.9 779.2,1004.2 781.4,1004.5 783.5,1004.8 785.7,1005.1 787.8,1005.4 789.9,1005.7 792.1,1006.0 794.2,1006.2 796.3,1006.5 798.4,1006.8 800.5,1007.1 802.6,1007.4 804.7,1007.7 806.7,1008.0 808.8,1008.2 810.9,1008.5 812.9,1008.8 815.0,1009.1 817.0,1009.4 819.1,1009.6 821.1,1009.9 823.2,1010.2 825.2,1010.5 827.2,1010.7 829.3,1011.0 831.3,1011.3 833.3,1011.5 835.3,1011.8 837.3,1012.0 839.3,1012.3 841.3,1012.5 843.3,1012.8 845.3,1013.0 847.3,1013.3 849.3,1013.5 851.3,1013.8 853.3,1014.0 855.2,1014.2 857.2,1014.5 859.2,1014.7 861.2,1014.9 863.1,1015.1 865.1,1015.4 867.1,1015.6 869.0,1015.8 871.0,1016.0 873.0,1016.2 874.9,1016.4 876.9,1016.6 878.8,1016.8 880.8,1016.9 882.7,1017.1 884.7,1017.3 886.7,1017.5 888.6,1017.6 890.6,1017.8 892.5,1018.0 894.5,1018.1 896.4,1018.3 898.4,1018.4 900.3,1018.5 902.3,1018.7 904.2,1018.8 906.2,1018.9 908.2,1019.0 910.1,1019.1 912.1,1019.2 914.0,1019.3 916.0,1019.4 917.9,1019.5 919.9,1019.6 921.9,1019.7 923.8,1019.7 925.8,1019.8 927.8,1019.9 929.8,1019.9 931.7,1019.9 933.7,1020.0 935.7,1020.0 937.7,1020.0 939.7,1020.0 941.7,1020.1 943.7,1020.1 945.6,1020.0 947.6,1020.0 949.7,1020.0 951.7,1020.0 953.7,1020.0 955.7,1019.9 957.7,1019.9 959.7,1019.8 961.7,1019.7 963.8,1019.7 965.8,1019.6 967.8,1019.5 969.9,1019.4 971.9,1019.3 973.9,1019.2 976.0,1019.1 978.0,1019.0 980.0,1018.8 982.1,1018.7 984.1,1018.6 986.2,1018.4 988.2,1018.3 990.2,1018.1 992.3,1017.9 994.3,1017.7 996.4,1017.6 998.4,1017.4 1000.4,1017.2 1002.5,1017.0 1004.5,1016.8 1006.6,1016.5 1008.6,1016.3 1010.6,1016.1 1012.7,1015.8 1014.7,1015.6 1016.7,1015.3 1018.7,1015.1 1020.8,1014.8 1022.8,1014.5 1024.8,1014.3 1026.8,1014.0 1028.8,1013.7 1030.8,1013.4 1032.8,1013.1 1034.8,1012.8 1036.8,1012.5 1038.8,1012.1 1040.8,1011.8 1042.8,1011.5 1044.8,1011.1 1046.7,1010.8 1048.7,1010.4 1050.7,1010.0 1052.6,1009.7 1054.6,1009.3 1056.5,1008.9 1058.4,1008.5 1060.4,1008.1 1062.3,1007.7 1064.2,1007.3 1066.1,1006.9 1068.0,1006.5 1069.9,1006.1 1071.8,1005.6 1073.7,1005.2 1075.6,1004.8 1077.5,1004.3 1079.3,1003.8 1081.2,1003.4 1083.1,1002.9 1084.9,1002.4 1086.8,1001.9 1088.6,1001.4 1090.5,1000.9 1092.4,1000.4 1094.2,999.9 1096.1,999.3 1098.0,998.8 1099.8,998.2 1101.7,997.6 1103.6,997.0 1105.5,996.4 1107.4,995.8 1109.3,995.1 1111.3,994.5 1113.2,993.8 1115.2,993.1 1117.1,992.4 1119.1,991.7 1121.1,990.9 1123.1,990.2 1125.1,989.4 1127.2,988.6 1129.2,987.7 1131.2,986.9 1133.2,986.0 1135.2,985.0 1137.1,984.0 1139.1,983.0 1141.0,981.9 1142.8,980.8 1144.6,979.6 1146.4,978.4 1148.1,977.1 1149.8,975.7 1151.4,974.3 1152.9,972.8 1154.3,971.2 1155.7,969.6 1156.9,968.0 1158.0,966.3 1158.9,964.7 1159.7,963.0 1160.2,961.4 1160.6,959.8 1160.7,958.3 1160.5,956.8 1160.1,955.4 1159.4,954.1 1158.4,953.0 1157.2,951.9 1155.8,950.9 1154.4,950.1 1152.9,949.4 1151.3,948.7 1149.7,948.2 1148.0,947.8 1146.3,947.5 1144.5,947.2 1142.7,947.1 1140.8,947.0 1138.9,947.0 1137.0,947.0 1135.0,947.1 1133.1,947.3 1131.0,947.5 1129.0,947.7 1126.9,948.0 1124.9,948.4 1122.8,948.7 1120.7,949.1 1118.6,949.5 1116.5,949.9 1114.4,950.3 1112.3,950.8 1110.3,951.2 1108.2,951.6 1106.1,952.0 1104.0,952.5 1102.0,952.9 1099.9,953.3 1097.8,953.8 1095.8,954.2 1093.7,954.7 1091.7,955.1 1089.6,955.6 1087.6,956.0 1085.5,956.5 1083.5,956.9 1081.5,957.4 1079.4,957.9 1077.4,958.3 1075.4,958.8 1073.4,959.3 1071.3,959.7 1069.3,960.2 1067.3,960.7 1065.3,961.1 1063.3,961.6 1061.3,962.1 1059.3,962.5 1057.3,963.0 1055.3,963.5 1053.3,963.9 1051.3,964.4 1049.3,964.9 1047.3,965.4 1045.4,965.8 1043.4,966.3 1041.4,966.8 1039.4,967.2 1037.4,967.7 1035.5,968.2 1033.5,968.6 1031.5,969.1 1029.5,969.5 1027.6,970.0 1025.6,970.4 1023.6,970.9 1021.7,971.3 1019.7,971.8 1017.8,972.2 1015.8,972.7 1013.9,973.1 1011.9,973.6 1009.9,974.0 1008.0,974.4 1006.0,974.8 1004.1,975.3 1002.1,975.7 1000.2,976.1 998.2,976.5 996.3,976.9 994.4,977.3 992.4,977.7 990.5,978.1 988.5,978.5 986.6,978.9 984.6,979.3 982.7,979.7 980.8,980.0 978.8,980.4 976.9,980.8 974.9,981.1 973.0,981.5 971.1,981.8 969.1,982.1 967.2,982.5 965.2,982.8 963.3,983.1 961.4,983.4 959.4,983.7 957.5,984.0 955.5,984.3 953.6,984.6 951.7,984.9 949.7,985.2 947.8,985.4 945.8,985.7 943.9,985.9 941.9,986.2 940.0,986.4 938.1,986.6 936.1,986.8 934.2,987.1 932.2,987.3 930.3,987.4 928.3,987.6 926.4,987.8 924.4,988.0 922.5,988.1 920.5,988.3 918.6,988.4 916.6,988.5 914.7,988.6 912.7,988.8 910.7,988.9 908.8,988.9 906.8,989.0 904.8,989.1 902.9,989.1 900.9,989.2 898.9,989.2 897.0,989.2 895.0,989.3 893.0,989.3 891.0,989.2 889.1,989.2 887.1,989.2 885.1,989.2 883.1,989.1 881.1,989.0 879.1,988.9 877.1,988.9 875.1,988.8 873.1,988.6 871.1,988.5 869.1,988.4 867.1,988.2 865.1,988.0 863.1,987.9 861.1,987.7 859.1,987.5 857.1,987.2 855.0,987.0 853.0,986.7 851.0,986.5 849.0,986.2 846.9,985.9 844.9,985.6 842.8,985.3 840.8,985.0 838.8,984.6 836.7,984.3 834.7,984.0 832.6,983.6 830.5,983.2 828.5,982.9 826.4,982.5 824.4,982.1 822.3,981.8 820.2,981.4 818.2,981.0 816.1,980.7 814.0,980.3 812.0,979.9 809.9,979.6 807.8,979.2 805.8,978.9 803.7,978.5 801.6,978.2 799.5,977.9 797.4,977.6 795.4,977.3 793.3,977.0 791.2,976.7 789.1,976.5 787.1,976.2 785.0,976.0 782.9,975.8 780.8,975.6 778.8,975.4 776.7,975.3 774.6,975.1 772.5,975.0 770.5,975.0 768.4,974.9 766.3,974.9 764.2,974.8 762.2,974.9 760.1,974.9 758.0,975.0 756.0,975.1 753.9,975.2 751.8,975.4 749.8,975.6 747.7,975.8 745.7,976.1 743.7,976.4 741.8,976.8 740.0,977.3 738.5,977.9 737.2,978.6 736.3,979.4 Z" fill="#cdc4c3" stroke="#4d4646" stroke-width="2.9"/>
<path d="M739.5,967.9 739.3,969.3 739.4,970.7 739.6,972.2 740.0,973.7 740.7,975.1 741.4,976.5 742.4,977.7 743.5,978.9 744.8,979.9 746.3,980.8 747.9,981.5 749.6,982.1 751.4,982.7 753.4,983.1 755.3,983.5 757.4,983.9 759.5,984.1 761.6,984.4 763.8,984.6 765.9,984.9 768.1,985.1 770.2,985.3 772.4,985.6 774.5,985.8 776.6,986.1 778.7,986.4 780.8,986.6 782.9,986.9 785.0,987.2 787.1,987.4 789.1,987.7 791.2,988.0 793.3,988.3 795.3,988.6 797.3,988.8 799.4,989.1 801.4,989.4 803.5,989.7 805.5,990.0 807.5,990.3 809.5,990.6 811.5,990.8 813.6,991.1 815.6,991.4 817.6,991.7 819.6,992.0 821.6,992.2 823.6,992.5 825.6,992.8 827.6,993.1 829.6,993.3 831.6,993.6 833.6,993.9 835.6,994.1 837.6,994.4 839.5,994.6 841.5,994.9 843.5,995.1 845.5,995.4 847.5,995.6 849.5,995.8 851.5,996.1 853.5,996.3 855.4,996.5 857.4,996.7 859.4,997.0 861.4,997.2 863.4,997.4 865.3,997.6 867.3,997.8 869.3,998.0 871.3,998.2 873.3,998.4 875.2,998.5 877.2,998.7 879.2,998.9 881.2,999.0 883.1,999.2 885.1,999.4 887.1,999.5 889.1,999.7 891.0,999.8 893.0,999.9 895.0,1000.1 897.0,1000.2 898.9,1000.3 900.9,1000.4 902.9,1000.5 904.9,1000.6 906.8,1000.7 908.8,1000.8 910.8,1000.9 912.7,1001.0 914.7,1001.0 916.7,1001.1 918.7,1001.2 920.6,1001.2 922.6,1001.3 924.6,1001.3 926.6,1001.3 928.5,1001.4 930.5,1001.4 932.5,1001.4 934.5,1001.4 936.4,1001.4 938.4,1001.4 940.4,1001.4 942.4,1001.4 944.3,1001.3 946.3,1001.3 948.3,1001.2 950.3,1001.2 952.3,1001.1 954.2,1001.1 956.2,1001.0 958.2,1000.9 960.2,1000.8 962.2,1000.7 964.1,1000.6 966.1,1000.5 968.1,1000.4 970.1,1000.2 972.1,1000.1 974.1,999.9 976.1,999.8 978.1,999.6 980.0,999.4 982.0,999.3 984.0,999.1 986.0,998.9 988.0,998.6 990.0,998.4 992.0,998.2 994.0,998.0 996.0,997.7 998.0,997.5 1000.0,997.2 1002.0,996.9 1004.0,996.6 1006.0,996.3 1008.0,996.0 1010.0,995.7 1012.1,995.4 1014.1,995.0 1016.1,994.7 1018.1,994.3 1020.1,994.0 1022.1,993.6 1024.2,993.2 1026.2,992.8 1028.2,992.4 1030.2,992.0 1032.3,991.6 1034.3,991.1 1036.3,990.7 1038.3,990.2 1040.4,989.7 1042.4,989.3 1044.5,988.8 1046.5,988.3 1048.5,987.7 1050.6,987.2 1052.6,986.7 1054.7,986.1 1056.7,985.6 1058.8,985.0 1060.8,984.4 1062.9,983.8 1064.9,983.2 1067.0,982.6 1069.1,981.9 1071.1,981.3 1073.1,980.6 1075.2,979.9 1077.2,979.2 1079.2,978.5 1081.2,977.8 1083.2,977.0 1085.1,976.2 1087.0,975.4 1088.9,974.6 1090.8,973.8 1092.7,972.9 1094.5,972.0 1096.3,971.1 1098.1,970.2 1099.8,969.2 1101.5,968.2 1103.2,967.2 1104.8,966.2 1106.3,965.1 1107.9,964.0 1109.4,962.9 1110.8,961.7 1112.2,960.5 1113.5,959.3 1114.8,958.1 1116.0,956.8 1117.2,955.4 1118.3,954.1 1119.3,952.7 1120.3,951.3 1121.2,949.8 1122.1,948.3 1122.8,946.7 1123.6,945.2 1124.2,943.5 1124.7,941.9 1125.1,940.3 1125.3,938.7 1125.4,937.2 1125.2,935.7 1124.7,934.4 1124.0,933.2 1123.0,932.1 1121.7,931.2 1120.1,930.5 1118.3,929.9 1116.4,929.4 1114.3,929.1 1112.0,929.0 1109.7,928.9 1107.3,929.0 1104.9,929.2 1102.4,929.5 1099.9,929.8 1097.4,930.2 1094.9,930.7 1092.4,931.2 1089.9,931.7 1087.5,932.2 1085.1,932.7 1082.7,933.2 1080.4,933.7 1078.1,934.2 1075.9,934.7 1073.7,935.1 1071.5,935.6 1069.3,936.1 1067.2,936.6 1065.1,937.1 1063.1,937.5 1061.0,938.0 1059.0,938.5 1057.0,938.9 1055.1,939.4 1053.1,939.9 1051.2,940.3 1049.3,940.8 1047.4,941.2 1045.5,941.7 1043.7,942.1 1041.9,942.5 1040.0,943.0 1038.2,943.4 1036.4,943.8 1034.6,944.3 1032.8,944.7 1031.0,945.1 1029.3,945.5 1027.5,945.9 1025.7,946.3 1024.0,946.7 1022.2,947.1 1020.5,947.5 1018.7,947.9 1016.9,948.3 1015.1,948.7 1013.4,949.1 1011.6,949.4 1009.8,949.8 1008.0,950.2 1006.2,950.5 1004.4,950.9 1002.5,951.2 1000.7,951.6 998.8,951.9 996.9,952.3 995.0,952.6 993.1,953.0 991.2,953.3 989.3,953.6 987.3,953.9 985.4,954.2 983.4,954.5 981.4,954.8 979.4,955.1 977.4,955.4 975.4,955.7 973.4,956.0 971.4,956.3 969.4,956.5 967.3,956.8 965.3,957.1 963.3,957.3 961.2,957.6 959.2,957.8 957.1,958.0 955.0,958.3 953.0,958.5 950.9,958.7 948.9,958.9 946.8,959.1 944.7,959.3 942.7,959.5 940.6,959.7 938.6,959.8 936.5,960.0 934.5,960.2 932.4,960.3 930.4,960.5 928.3,960.6 926.3,960.7 924.3,960.9 922.3,961.0 920.2,961.1 918.2,961.2 916.3,961.3 914.3,961.4 912.3,961.4 910.3,961.5 908.4,961.6 906.4,961.6 904.5,961.6 902.6,961.7 900.7,961.7 898.8,961.7 896.9,961.7 895.1,961.7 893.2,961.7 891.4,961.7 889.6,961.7 887.7,961.6 885.9,961.6 884.1,961.6 882.3,961.5 880.5,961.4 878.7,961.4 876.9,961.3 875.1,961.2 873.3,961.1 871.5,961.1 869.7,961.0 867.9,960.9 866.1,960.8 864.3,960.7 862.4,960.5 860.6,960.4 858.8,960.3 856.9,960.2 855.0,960.1 853.1,959.9 851.2,959.8 849.3,959.7 847.4,959.5 845.4,959.4 843.4,959.3 841.4,959.1 839.4,959.0 837.4,958.8 835.3,958.7 833.2,958.6 831.1,958.4 828.9,958.3 826.8,958.1 824.6,958.0 822.3,957.8 820.1,957.7 817.8,957.6 815.4,957.4 813.0,957.3 810.6,957.1 808.2,957.0 805.7,956.9 803.2,956.8 800.6,956.6 798.0,956.5 795.3,956.4 792.7,956.3 790.0,956.2 787.3,956.1 784.5,956.0 781.8,956.0 779.1,956.0 776.5,956.0 773.8,956.0 771.2,956.1 768.6,956.2 766.1,956.4 763.7,956.5 761.3,956.8 759.0,957.1 756.8,957.4 754.7,957.8 752.6,958.2 750.7,958.8 748.9,959.3 747.3,960.0 745.7,960.7 744.4,961.5 743.1,962.3 742.0,963.3 741.1,964.3 740.4,965.4 739.9,966.6 739.5,967.9 Z" fill="#ddd6d5" stroke="#4d4646" stroke-width="2.9"/>
<path d="M739.5,962.7 739.3,964.1 739.4,965.5 739.6,967.0 740.0,968.5 740.7,969.9 741.4,971.3 742.4,972.5 743.5,973.7 744.8,974.7 746.3,975.6 747.9,976.3 749.6,976.9 751.4,977.5 753.4,977.9 755.3,978.3 757.4,978.7 759.5,978.9 761.6,979.2 763.8,979.4 765.9,979.7 768.1,979.9 770.2,980.1 772.4,980.4 774.5,980.6 776.6,980.9 778.7,981.2 780.8,981.4 782.9,981.7 785.0,982.0 787.1,982.2 789.1,982.5 791.2,982.8 793.3,983.1 795.3,983.4 797.3,983.6 799.4,983.9 801.4,984.2 803.5,984.5 805.5,984.8 807.5,985.1 809.5,985.4 811.5,985.6 813.6,985.9 815.6,986.2 817.6,986.5 819.6,986.8 821.6,987.0 823.6,987.3 825.6,987.6 827.6,987.9 829.6,988.1 831.6,988.4 833.6,988.7 835.6,988.9 837.6,989.2 839.5,989.4 841.5,989.7 843.5,989.9 845.5,990.2 847.5,990.4 849.5,990.6 851.5,990.9 853.5,991.1 855.4,991.3 857.4,991.5 859.4,991.8 861.4,992.0 863.4,992.2 865.3,992.4 867.3,992.6 869.3,992.8 871.3,993.0 873.3,993.2 875.2,993.3 877.2,993.5 879.2,993.7 881.2,993.8 883.1,994.0 885.1,994.2 887.1,994.3 889.1,994.5 891.0,994.6 893.0,994.7 895.0,994.9 897.0,995.0 898.9,995.1 900.9,995.2 902.9,995.3 904.9,995.4 906.8,995.5 908.8,995.6 910.8,995.7 912.7,995.8 914.7,995.8 916.7,995.9 918.7,996.0 920.6,996.0 922.6,996.1 924.6,996.1 926.6,996.1 928.5,996.2 930.5,996.2 932.5,996.2 934.5,996.2 936.4,996.2 938.4,996.2 940.4,996.2 942.4,996.2 944.3,996.1 946.3,996.1 948.3,996.0 950.3,996.0 952.3,995.9 954.2,995.9 956.2,995.8 958.2,995.7 960.2,995.6 962.2,995.5 964.1,995.4 966.1,995.3 968.1,995.2 970.1,995.0 972.1,994.9 974.1,994.7 976.1,994.6 978.1,994.4 980.0,994.2 982.0,994.1 984.0,993.9 986.0,993.7 988.0,993.4 990.0,993.2 992.0,993.0 994.0,992.8 996.0,992.5 998.0,992.3 1000.0,992.0 1002.0,991.7 1004.0,991.4 1006.0,991.1 1008.0,990.8 1010.0,990.5 1012.1,990.2 1014.1,989.8 1016.1,989.5 1018.1,989.1 1020.1,988.8 1022.1,988.4 1024.2,988.0 1026.2,987.6 1028.2,987.2 1030.2,986.8 1032.3,986.4 1034.3,985.9 1036.3,985.5 1038.3,985.0 1040.4,984.5 1042.4,984.1 1044.5,983.6 1046.5,983.1 1048.5,982.5 1050.6,982.0 1052.6,981.5 1054.7,980.9 1056.7,980.4 1058.8,979.8 1060.8,979.2 1062.9,978.6 1064.9,978.0 1067.0,977.4 1069.1,976.7 1071.1,976.1 1073.1,975.4 1075.2,974.7 1077.2,974.0 1079.2,973.3 1081.2,972.6 1083.2,971.8 1085.1,971.0 1087.0,970.2 1088.9,969.4 1090.8,968.6 1092.7,967.7 1094.5,966.8 1096.3,965.9 1098.1,965.0 1099.8,964.0 1101.5,963.0 1103.2,962.0 1104.8,961.0 1106.3,959.9 1107.9,958.8 1109.4,957.7 1110.8,956.5 1112.2,955.3 1113.5,954.1 1114.8,952.9 1116.0,951.6 1117.2,950.2 1118.3,948.9 1119.3,947.5 1120.3,946.1 1121.2,944.6 1122.1,943.1 1122.8,941.5 1123.6,940.0 1124.2,938.3 1124.7,936.7 1125.1,935.1 1125.3,933.5 1125.4,932.0 1125.2,930.5 1124.7,929.2 1124.0,928.0 1123.0,926.9 1121.7,926.0 1120.1,925.3 1118.3,924.7 1116.4,924.2 1114.3,923.9 1112.0,923.8 1109.7,923.7 1107.3,923.8 1104.9,924.0 1102.4,924.3 1099.9,924.6 1097.4,925.0 1094.9,925.5 1092.4,926.0 1089.9,926.5 1087.5,927.0 1085.1,927.5 1082.7,928.0 1080.4,928.5 1078.1,929.0 1075.9,929.5 1073.7,929.9 1071.5,930.4 1069.3,930.9 1067.2,931.4 1065.1,931.9 1063.1,932.3 1061.0,932.8 1059.0,933.3 1057.0,933.7 1055.1,934.2 1053.1,934.7 1051.2,935.1 1049.3,935.6 1047.4,936.0 1045.5,936.5 1043.7,936.9 1041.9,937.3 1040.0,937.8 1038.2,938.2 1036.4,938.6 1034.6,939.1 1032.8,939.5 1031.0,939.9 1029.3,940.3 1027.5,940.7 1025.7,941.1 1024.0,941.5 1022.2,941.9 1020.5,942.3 1018.7,942.7 1016.9,943.1 1015.1,943.5 1013.4,943.9 1011.6,944.2 1009.8,944.6 1008.0,945.0 1006.2,945.3 1004.4,945.7 1002.5,946.0 1000.7,946.4 998.8,946.7 996.9,947.1 995.0,947.4 993.1,947.8 991.2,948.1 989.3,948.4 987.3,948.7 985.4,949.0 983.4,949.3 981.4,949.6 979.4,949.9 977.4,950.2 975.4,950.5 973.4,950.8 971.4,951.1 969.4,951.3 967.3,951.6 965.3,951.9 963.3,952.1 961.2,952.4 959.2,952.6 957.1,952.8 955.0,953.1 953.0,953.3 950.9,953.5 948.9,953.7 946.8,953.9 944.7,954.1 942.7,954.3 940.6,954.5 938.6,954.6 936.5,954.8 934.5,955.0 932.4,955.1 930.4,955.3 928.3,955.4 926.3,955.5 924.3,955.7 922.3,955.8 920.2,955.9 918.2,956.0 916.3,956.1 914.3,956.2 912.3,956.2 910.3,956.3 908.4,956.4 906.4,956.4 904.5,956.4 902.6,956.5 900.7,956.5 898.8,956.5 896.9,956.5 895.1,956.5 893.2,956.5 891.4,956.5 889.6,956.5 887.7,956.4 885.9,956.4 884.1,956.4 882.3,956.3 880.5,956.2 878.7,956.2 876.9,956.1 875.1,956.0 873.3,955.9 871.5,955.9 869.7,955.8 867.9,955.7 866.1,955.6 864.3,955.5 862.4,955.3 860.6,955.2 858.8,955.1 856.9,955.0 855.0,954.9 853.1,954.7 851.2,954.6 849.3,954.5 847.4,954.3 845.4,954.2 843.4,954.1 841.4,953.9 839.4,953.8 837.4,953.6 835.3,953.5 833.2,953.4 831.1,953.2 828.9,953.1 826.8,952.9 824.6,952.8 822.3,952.6 820.1,952.5 817.8,952.4 815.4,952.2 813.0,952.1 810.6,951.9 808.2,951.8 805.7,951.7 803.2,951.6 800.6,951.4 798.0,951.3 795.3,951.2 792.7,951.1 790.0,951.0 787.3,950.9 784.5,950.8 781.8,950.8 779.1,950.8 776.5,950.8 773.8,950.8 771.2,950.9 768.6,951.0 766.1,951.2 763.7,951.3 761.3,951.6 759.0,951.9 756.8,952.2 754.7,952.6 752.6,953.0 750.7,953.6 748.9,954.1 747.3,954.8 745.7,955.5 744.4,956.3 743.1,957.1 742.0,958.1 741.1,959.1 740.4,960.2 739.9,961.4 739.5,962.7 Z" fill="#ddd6d5" stroke="#4d4646" stroke-width="2.9"/>
<path d="M620.0,817.0 621.7,818.4 623.3,819.7 625.0,821.2 626.6,822.6 628.2,824.1 629.7,825.6 631.2,827.1 632.7,828.6 634.2,830.2 635.7,831.7 637.1,833.3 638.6,834.9 640.0,836.5 641.4,838.2 642.8,839.8 644.2,841.5 645.6,843.1 647.0,844.8 648.3,846.4 649.7,848.1 651.1,849.7 652.5,851.4 653.8,853.1 655.2,854.7 656.6,856.4 658.0,858.0" fill="none" stroke="#4d4646" stroke-width="2.8"/>
<path d="M661.5,850.4 660.5,850.9 659.6,851.6 658.8,852.5 658.0,853.6 657.4,854.8 656.9,856.1 656.5,857.6 656.2,859.2 656.0,860.9 655.8,862.7 655.8,864.7 655.8,866.6 655.9,868.7 656.1,870.8 656.4,873.0 656.7,875.2 657.1,877.4 657.6,879.7 658.1,881.9 658.7,884.2 659.3,886.4 660.0,888.6 660.7,890.8 661.5,892.9 662.3,895.0 663.2,897.0 664.1,899.0 665.0,900.9 666.0,902.7 667.0,904.5 668.0,906.3 669.1,908.0 670.2,909.6 671.4,911.2 672.6,912.8 673.8,914.3 675.1,915.7 676.4,917.2 677.7,918.5 679.0,919.9 680.4,921.2 681.8,922.5 683.3,923.7 684.8,924.9 686.3,926.1 687.8,927.2 689.4,928.3 690.9,929.4 692.6,930.5 694.2,931.5 695.9,932.5 697.5,933.5 699.2,934.5 701.0,935.4 702.7,936.3 704.5,937.2 706.3,938.1 708.1,939.0 709.9,939.9 711.8,940.7 713.7,941.6 715.5,942.4 717.4,943.3 719.4,944.1 721.3,944.9 723.3,945.7 725.2,946.5 727.2,947.4 729.2,948.2 731.2,949.0 733.2,949.8 735.2,950.7 737.3,951.5 739.3,952.3 741.3,953.1 743.4,953.9 745.4,954.7 747.5,955.4 749.5,956.1 751.5,956.8 753.6,957.5 755.6,958.1 757.6,958.6 759.6,959.1 761.5,959.5 763.5,959.9 765.4,960.2 767.3,960.4 769.2,960.6 771.1,960.7 772.9,960.7 774.7,960.6 776.4,960.3 778.2,960.0 779.9,959.6 781.5,959.1 783.1,958.5 784.7,957.7 786.2,956.8 787.7,955.8 789.0,954.7 790.3,953.5 791.3,952.1 792.0,950.7 792.3,949.3 792.2,947.9 791.5,946.4 790.4,945.0 788.8,943.6 787.0,942.2 785.0,940.8 783.0,939.5 781.1,938.1 779.2,936.8 777.3,935.5 775.4,934.2 773.6,932.9 771.8,931.6 770.0,930.4 768.3,929.1 766.5,927.9 764.8,926.7 763.2,925.5 761.5,924.3 759.9,923.1 758.3,921.9 756.7,920.7 755.1,919.5 753.6,918.3 752.0,917.1 750.5,915.9 749.0,914.8 747.5,913.6 746.1,912.4 744.6,911.2 743.2,910.0 741.8,908.8 740.4,907.6 739.0,906.4 737.6,905.1 736.2,903.9 734.8,902.7 733.5,901.4 732.1,900.1 730.8,898.9 729.4,897.6 728.0,896.3 726.7,895.0 725.3,893.7 723.9,892.3 722.5,891.0 721.1,889.7 719.7,888.3 718.2,886.9 716.7,885.5 715.2,884.1 713.7,882.7 712.2,881.3 710.6,879.9 709.0,878.4 707.3,877.0 705.7,875.5 703.9,874.0 702.2,872.5 700.4,871.0 698.5,869.5 696.6,868.0 694.7,866.4 692.8,864.9 690.8,863.4 688.8,861.9 686.8,860.5 684.8,859.1 682.9,857.8 680.9,856.5 679.0,855.3 677.1,854.3 675.2,853.3 673.4,852.4 671.6,851.6 669.9,851.0 668.3,850.5 666.8,850.1 665.3,849.9 664.0,849.9 662.7,850.0 661.5,850.4 Z" fill="#e8e2e0" stroke="#4d4646" stroke-width="2.9"/>
<path d="M664.5,847.4 663.5,847.9 662.6,848.6 661.8,849.5 661.0,850.6 660.4,851.8 659.9,853.1 659.5,854.6 659.2,856.2 659.0,857.9 658.8,859.7 658.8,861.7 658.8,863.6 658.9,865.7 659.1,867.8 659.4,870.0 659.7,872.2 660.1,874.4 660.6,876.7 661.1,878.9 661.7,881.2 662.3,883.4 663.0,885.6 663.7,887.8 664.5,889.9 665.3,892.0 666.2,894.0 667.1,896.0 668.0,897.9 669.0,899.7 670.0,901.5 671.0,903.3 672.1,905.0 673.2,906.6 674.4,908.2 675.6,909.8 676.8,911.3 678.1,912.7 679.4,914.2 680.7,915.5 682.0,916.9 683.4,918.2 684.8,919.5 686.3,920.7 687.8,921.9 689.3,923.1 690.8,924.2 692.4,925.3 693.9,926.4 695.6,927.5 697.2,928.5 698.9,929.5 700.5,930.5 702.2,931.5 704.0,932.4 705.7,933.3 707.5,934.2 709.3,935.1 711.1,936.0 712.9,936.9 714.8,937.7 716.7,938.6 718.5,939.4 720.4,940.3 722.4,941.1 724.3,941.9 726.3,942.7 728.2,943.5 730.2,944.4 732.2,945.2 734.2,946.0 736.2,946.8 738.2,947.7 740.3,948.5 742.3,949.3 744.3,950.1 746.4,950.9 748.4,951.7 750.5,952.4 752.5,953.1 754.5,953.8 756.6,954.5 758.6,955.1 760.6,955.6 762.6,956.1 764.5,956.5 766.5,956.9 768.4,957.2 770.3,957.4 772.2,957.6 774.1,957.7 775.9,957.7 777.7,957.6 779.4,957.3 781.2,957.0 782.9,956.6 784.5,956.1 786.1,955.5 787.7,954.7 789.2,953.8 790.7,952.8 792.0,951.7 793.3,950.5 794.3,949.1 795.0,947.7 795.3,946.3 795.2,944.9 794.5,943.4 793.4,942.0 791.8,940.6 790.0,939.2 788.0,937.8 786.0,936.5 784.1,935.1 782.2,933.8 780.3,932.5 778.4,931.2 776.6,929.9 774.8,928.6 773.0,927.4 771.3,926.1 769.5,924.9 767.8,923.7 766.2,922.5 764.5,921.3 762.9,920.1 761.3,918.9 759.7,917.7 758.1,916.5 756.6,915.3 755.0,914.1 753.5,912.9 752.0,911.8 750.5,910.6 749.1,909.4 747.6,908.2 746.2,907.0 744.8,905.8 743.4,904.6 742.0,903.4 740.6,902.1 739.2,900.9 737.8,899.7 736.5,898.4 735.1,897.1 733.8,895.9 732.4,894.6 731.0,893.3 729.7,892.0 728.3,890.7 726.9,889.3 725.5,888.0 724.1,886.7 722.7,885.3 721.2,883.9 719.7,882.5 718.2,881.1 716.7,879.7 715.2,878.3 713.6,876.9 712.0,875.4 710.3,874.0 708.7,872.5 706.9,871.0 705.2,869.5 703.4,868.0 701.5,866.5 699.6,865.0 697.7,863.4 695.8,861.9 693.8,860.4 691.8,858.9 689.8,857.5 687.8,856.1 685.9,854.8 683.9,853.5 682.0,852.3 680.1,851.3 678.2,850.3 676.4,849.4 674.6,848.6 672.9,848.0 671.3,847.5 669.8,847.1 668.3,846.9 667.0,846.9 665.7,847.0 664.5,847.4 Z" fill="#e8e2e0" stroke="#4d4646" stroke-width="2.9"/>
<path d="M343.6,578.8 343.8,577.5 344.2,576.2 344.9,575.0 345.7,573.8 346.8,572.8 348.0,571.8 349.4,570.9 350.9,570.1 352.6,569.3 354.3,568.6 356.2,568.0 358.2,567.5 360.3,567.0 362.4,566.5 364.6,566.1 366.8,565.8 369.0,565.6 371.2,565.3 373.4,565.2 375.6,565.1 377.8,565.0 379.9,565.0 382.0,565.0 384.2,565.1 386.3,565.2 388.3,565.4 390.4,565.6 392.4,565.8 394.5,566.1 396.5,566.4 398.5,566.8 400.5,567.2 402.4,567.7 404.4,568.2 406.3,568.7 408.3,569.2 410.2,569.8 412.1,570.5 414.0,571.1 415.8,571.8 417.7,572.6 419.5,573.3 421.3,574.1 423.2,574.9 425.0,575.8 426.8,576.6 428.5,577.5 430.3,578.5 432.0,579.4 433.8,580.4 435.5,581.4 437.2,582.4 438.9,583.5 440.6,584.5 442.3,585.6 444.0,586.7 445.7,587.9 447.3,589.0 449.0,590.2 450.6,591.4 452.2,592.6 453.9,593.8 455.5,595.0 457.1,596.2 458.7,597.5 460.2,598.8 461.8,600.0 463.4,601.3 465.0,602.6 466.5,603.9 468.1,605.2 469.6,606.5 471.1,607.9 472.7,609.2 474.2,610.5 475.7,611.9 477.2,613.2 478.7,614.6 480.2,615.9 481.7,617.3 483.2,618.7 484.6,620.1 486.1,621.4 487.6,622.8 489.0,624.2 490.5,625.6 491.9,627.0 493.4,628.4 494.8,629.8 496.3,631.2 497.7,632.7 499.1,634.1 500.5,635.5 502.0,636.9 503.4,638.4 504.8,639.8 506.2,641.3 507.6,642.7 509.0,644.2 510.3,645.6 511.7,647.1 513.1,648.5 514.5,650.0 515.9,651.5 517.2,653.0 518.6,654.4 520.0,655.9 521.3,657.4 522.7,658.9 524.0,660.4 525.4,661.9 526.7,663.4 528.1,664.9 529.4,666.3 530.7,667.9 532.1,669.4 533.4,670.9 534.7,672.4 536.1,673.9 537.4,675.4 538.7,676.9 540.0,678.4 541.3,679.9 542.7,681.5 544.0,683.0 545.3,684.5 546.6,686.0 547.9,687.5 549.2,689.1 550.5,690.6 551.8,692.1 553.1,693.6 554.4,695.2 555.7,696.7 557.0,698.2 558.3,699.8 559.6,701.3 560.9,702.8 562.2,704.4 563.5,705.9 564.8,707.4 566.1,709.0 567.4,710.5 568.7,712.0 570.0,713.5 571.3,715.1 572.6,716.6 573.9,718.1 575.2,719.7 576.5,721.2 577.8,722.7 579.1,724.2 580.4,725.8 581.7,727.3 583.0,728.8 584.3,730.3 585.6,731.9 587.0,733.4 588.3,734.9 589.6,736.4 590.9,737.9 592.2,739.4 593.5,740.9 594.8,742.4 596.1,743.9 597.5,745.4 598.8,746.9 600.1,748.4 601.4,749.9 602.8,751.4 604.1,752.9 605.4,754.4 606.8,755.9 608.1,757.4 609.5,758.9 610.8,760.3 612.2,761.8 613.5,763.3 614.9,764.7 616.2,766.2 617.6,767.7 618.9,769.1 620.3,770.6 621.7,772.0 623.1,773.4 624.4,774.9 625.8,776.3 627.2,777.8 628.6,779.2 630.0,780.6 631.4,782.0 632.8,783.4 634.2,784.8 635.6,786.2 637.1,787.6 638.5,789.0 639.9,790.4 641.3,791.8 642.8,793.2 644.2,794.6 645.7,795.9 647.1,797.3 648.6,798.6 650.1,800.0 651.5,801.3 653.0,802.7 654.5,804.0 656.0,805.3 657.5,806.7 659.0,808.0 660.5,809.3 662.0,810.6 663.5,811.9 665.0,813.2 666.6,814.5 668.1,815.7 669.7,817.0 671.2,818.3 672.8,819.5 674.3,820.8 675.9,822.0 677.5,823.2 679.1,824.5 680.7,825.7 682.3,826.9 683.9,828.1 685.5,829.3 687.1,830.5 688.8,831.7 690.4,832.8 692.1,834.0 693.7,835.2 695.4,836.3 697.0,837.4 698.7,838.6 700.4,839.7 702.1,840.8 703.8,841.9 705.5,843.0 707.2,844.1 708.9,845.2 710.6,846.3 712.3,847.4 714.0,848.4 715.8,849.5 717.5,850.5 719.2,851.6 721.0,852.6 722.8,853.6 724.5,854.6 726.3,855.6 728.1,856.6 729.8,857.6 731.6,858.6 733.4,859.5 735.2,860.5 737.0,861.4 738.8,862.4 740.6,863.3 742.4,864.2 744.2,865.1 746.1,866.0 747.9,866.9 749.7,867.8 751.6,868.7 753.4,869.6 755.2,870.4 757.1,871.3 758.9,872.1 760.8,872.9 762.7,873.7 764.5,874.6 766.4,875.4 768.3,876.1 770.1,876.9 772.0,877.7 773.9,878.5 775.8,879.2 777.7,879.9 779.6,880.7 781.5,881.4 783.4,882.1 785.3,882.8 787.2,883.5 789.1,884.2 791.0,884.9 792.9,885.5 794.9,886.2 796.8,886.8 798.7,887.4 800.6,888.1 802.6,888.7 804.5,889.3 806.4,889.8 808.4,890.4 810.3,891.0 812.3,891.5 814.2,892.1 816.2,892.6 818.1,893.1 820.1,893.7 822.0,894.2 824.0,894.6 825.9,895.1 827.9,895.6 829.8,896.0 831.8,896.5 833.8,896.9 835.7,897.4 837.7,897.8 839.7,898.2 841.6,898.6 843.6,898.9 845.6,899.3 847.6,899.7 849.5,900.0 851.5,900.3 853.5,900.7 855.5,901.0 857.4,901.3 859.4,901.5 861.4,901.8 863.4,902.1 865.4,902.3 867.3,902.6 869.3,902.8 871.3,903.0 873.3,903.2 875.3,903.4 877.2,903.6 879.2,903.7 881.2,903.9 883.2,904.0 885.2,904.2 887.1,904.3 889.1,904.4 891.1,904.5 893.1,904.6 895.1,904.6 897.1,904.7 899.0,904.8 901.0,904.8 903.0,904.8 905.0,904.9 907.0,904.9 908.9,904.9 910.9,904.9 912.9,904.9 914.9,904.9 916.9,904.8 918.9,904.8 920.9,904.8 922.8,904.7 924.8,904.7 926.8,904.6 928.8,904.6 930.8,904.5 932.8,904.4 934.8,904.3 936.8,904.2 938.7,904.1 940.7,904.0 942.7,903.9 944.7,903.8 946.7,903.7 948.7,903.6 950.7,903.5 952.7,903.4 954.7,903.2 956.7,903.1 958.7,903.0 960.7,902.8 962.7,902.7 964.7,902.6 966.7,902.4 968.7,902.3 970.7,902.1 972.7,902.0 974.7,901.9 976.7,901.7 978.8,901.6 980.8,901.4 982.8,901.3 984.8,901.1 986.8,901.0 988.8,900.8 990.8,900.7 992.9,900.6 994.9,900.4 996.9,900.3 998.9,900.1 1000.9,900.0 1003.0,899.9 1005.0,899.8 1007.0,899.6 1009.1,899.5 1011.1,899.4 1013.1,899.3 1015.2,899.2 1017.2,899.1 1019.2,899.0 1021.3,898.9 1023.3,898.8 1025.4,898.7 1027.4,898.6 1029.5,898.5 1031.5,898.5 1033.6,898.4 1035.6,898.3 1037.7,898.3 1039.7,898.2 1041.8,898.2 1043.9,898.2 1045.9,898.2 1048.0,898.1 1050.0,898.1 1052.1,898.1 1054.2,898.1 1056.3,898.2 1058.3,898.2 1060.4,898.2 1062.5,898.3 1064.6,898.3 1066.7,898.4 1068.8,898.5 1070.8,898.6 1072.9,898.7 1075.0,898.8 1077.1,899.0 1079.0,899.2 1081.0,899.4 1082.8,899.8 1084.6,900.2 1086.2,900.8 1087.8,901.4 1089.1,902.2 1090.4,903.1 1091.4,904.2 1092.3,905.4 1092.9,906.8 1093.3,908.4 1093.6,910.1 1093.6,911.9 1093.6,913.7 1093.4,915.5 1093.0,917.2 1092.6,918.9 1092.1,920.5 1091.4,922.0 1090.7,923.5 1089.9,925.0 1088.9,926.4 1087.9,927.8 1086.9,929.1 1085.7,930.4 1084.5,931.6 1083.1,932.9 1081.8,934.0 1080.3,935.2 1078.9,936.3 1077.3,937.4 1075.7,938.4 1074.1,939.4 1072.4,940.4 1070.7,941.4 1068.9,942.3 1067.2,943.3 1065.4,944.2 1063.5,945.1 1061.7,946.0 1059.8,946.8 1058.0,947.7 1056.1,948.5 1054.2,949.4 1052.4,950.2 1050.5,951.0 1048.6,951.8 1046.7,952.6 1044.8,953.3 1042.9,954.1 1041.0,954.9 1039.1,955.6 1037.2,956.4 1035.2,957.1 1033.3,957.8 1031.4,958.5 1029.5,959.2 1027.5,959.9 1025.6,960.5 1023.6,961.2 1021.7,961.8 1019.7,962.5 1017.8,963.1 1015.8,963.7 1013.9,964.3 1011.9,964.9 1009.9,965.5 1008.0,966.0 1006.0,966.6 1004.0,967.1 1002.0,967.6 1000.0,968.2 998.1,968.7 996.1,969.2 994.1,969.6 992.1,970.1 990.1,970.6 988.1,971.0 986.1,971.4 984.1,971.8 982.1,972.2 980.1,972.6 978.1,973.0 976.1,973.4 974.1,973.7 972.1,974.1 970.1,974.4 968.1,974.7 966.1,975.0 964.1,975.3 962.1,975.6 960.1,975.9 958.0,976.1 956.0,976.3 954.0,976.6 952.0,976.8 950.0,977.0 948.0,977.2 946.0,977.3 944.0,977.5 941.9,977.6 939.9,977.7 937.9,977.9 935.9,978.0 933.9,978.1 931.9,978.1 929.9,978.2 927.9,978.2 925.9,978.3 923.9,978.3 921.9,978.3 919.9,978.3 917.9,978.2 915.9,978.2 913.9,978.1 911.9,978.1 909.9,978.0 907.9,977.9 905.9,977.8 903.9,977.7 902.0,977.5 900.0,977.4 898.0,977.2 896.0,977.0 894.1,976.8 892.1,976.6 890.1,976.3 888.2,976.1 886.2,975.8 884.2,975.6 882.3,975.3 880.3,974.9 878.4,974.6 876.4,974.3 874.5,973.9 872.6,973.6 870.6,973.2 868.7,972.8 866.8,972.4 864.9,971.9 863.0,971.5 861.0,971.0 859.1,970.5 857.2,970.1 855.3,969.6 853.4,969.0 851.5,968.5 849.6,968.0 847.7,967.4 845.9,966.8 844.0,966.2 842.1,965.6 840.2,965.0 838.4,964.4 836.5,963.8 834.6,963.1 832.8,962.5 830.9,961.8 829.1,961.1 827.2,960.4 825.4,959.7 823.5,959.0 821.7,958.2 819.9,957.5 818.0,956.7 816.2,956.0 814.4,955.2 812.6,954.4 810.7,953.6 808.9,952.8 807.1,951.9 805.3,951.1 803.5,950.3 801.7,949.4 799.9,948.5 798.1,947.7 796.3,946.8 794.5,945.9 792.8,945.0 791.0,944.1 789.2,943.1 787.4,942.2 785.7,941.3 783.9,940.3 782.1,939.3 780.4,938.4 778.6,937.4 776.9,936.4 775.1,935.4 773.4,934.4 771.6,933.4 769.9,932.4 768.2,931.4 766.4,930.3 764.7,929.3 763.0,928.2 761.3,927.2 759.5,926.1 757.8,925.0 756.1,924.0 754.4,922.9 752.7,921.8 751.0,920.7 749.3,919.6 747.6,918.5 745.9,917.4 744.2,916.2 742.6,915.1 740.9,914.0 739.2,912.8 737.5,911.7 735.8,910.5 734.2,909.4 732.5,908.2 730.8,907.1 729.2,905.9 727.5,904.7 725.9,903.5 724.2,902.4 722.6,901.2 720.9,900.0 719.3,898.8 717.7,897.6 716.0,896.4 714.4,895.2 712.8,894.0 711.2,892.8 709.5,891.5 707.9,890.3 706.3,889.1 704.7,887.9 703.1,886.7 701.5,885.4 699.9,884.2 698.3,883.0 696.7,881.7 695.1,880.5 693.5,879.2 691.9,878.0 690.3,876.7 688.7,875.5 687.2,874.2 685.6,873.0 684.0,871.7 682.4,870.4 680.9,869.2 679.3,867.9 677.7,866.6 676.2,865.4 674.6,864.1 673.1,862.8 671.5,861.5 669.9,860.3 668.4,859.0 666.8,857.7 665.3,856.4 663.8,855.1 662.2,853.8 660.7,852.5 659.1,851.3 657.6,850.0 656.1,848.7 654.5,847.4 653.0,846.1 651.5,844.8 649.9,843.5 648.4,842.2 646.9,840.8 645.4,839.5 643.9,838.2 642.3,836.9 640.8,835.6 639.3,834.3 637.8,833.0 636.3,831.7 634.8,830.3 633.3,829.0 631.7,827.7 630.2,826.4 628.7,825.1 627.2,823.7 625.7,822.4 624.2,821.1 622.7,819.8 621.2,818.4 619.7,817.1 618.2,815.8 616.7,814.5 615.2,813.1 613.7,811.8 612.2,810.5 610.7,809.1 609.2,807.8 607.7,806.5 606.3,805.1 604.8,803.8 603.3,802.5 601.8,801.1 600.3,799.8 598.8,798.5 597.3,797.1 595.8,795.8 594.3,794.5 592.9,793.1 591.4,791.8 589.9,790.5 588.4,789.1 586.9,787.8 585.4,786.5 583.9,785.1 582.4,783.8 581.0,782.5 579.5,781.1 578.0,779.8 576.5,778.5 575.0,777.1 573.5,775.8 572.0,774.5 570.6,773.1 569.1,771.8 567.6,770.5 566.1,769.1 564.6,767.8 563.1,766.5 561.6,765.1 560.1,763.8 558.7,762.5 557.2,761.2 555.7,759.8 554.2,758.5 552.7,757.2 551.2,755.9 549.7,754.5 548.2,753.2 546.7,751.9 545.2,750.6 543.7,749.3 542.2,747.9 540.7,746.6 539.2,745.3 537.7,744.0 536.2,742.7 534.7,741.4 533.2,740.1 531.7,738.8 530.2,737.5 528.7,736.2 527.2,734.9 525.7,733.5 524.2,732.3 522.6,731.0 521.1,729.7 519.6,728.4 518.1,727.1 516.6,725.8 515.1,724.5 513.5,723.2 512.0,721.9 510.5,720.6 509.0,719.4 507.4,718.1 505.9,716.8 504.4,715.5 502.8,714.3 501.3,713.0 499.8,711.7 498.2,710.5 496.7,709.2 495.1,707.9 493.6,706.7 492.0,705.4 490.5,704.2 488.9,702.9 487.4,701.7 485.8,700.4 484.3,699.2 482.7,697.9 481.1,696.7 479.6,695.5 478.0,694.2 476.4,693.0 474.8,691.8 473.3,690.5 471.7,689.3 470.1,688.1 468.5,686.9 466.9,685.7 465.3,684.5 463.7,683.3 462.1,682.1 460.5,680.9 458.9,679.7 457.3,678.5 455.7,677.3 454.1,676.1 452.5,674.9 450.9,673.7 449.3,672.6 447.6,671.4 446.0,670.2 444.4,669.1 442.7,667.9 441.1,666.7 439.5,665.6 437.8,664.4 436.2,663.3 434.5,662.2 432.9,661.0 431.2,659.9 429.6,658.8 427.9,657.6 426.2,656.5 424.5,655.4 422.9,654.3 421.2,653.2 419.5,652.0 417.8,650.9 416.2,649.8 414.5,648.7 412.8,647.6 411.1,646.5 409.4,645.3 407.8,644.2 406.1,643.1 404.4,641.9 402.7,640.8 401.1,639.7 399.4,638.5 397.7,637.3 396.1,636.2 394.4,635.0 392.8,633.8 391.1,632.6 389.5,631.4 387.9,630.2 386.3,628.9 384.6,627.7 383.0,626.4 381.4,625.1 379.8,623.8 378.3,622.5 376.7,621.2 375.1,619.9 373.6,618.5 372.1,617.1 370.5,615.7 369.0,614.3 367.5,612.9 366.0,611.4 364.5,609.9 363.1,608.4 361.6,606.9 360.2,605.4 358.8,603.8 357.4,602.2 356.0,600.5 354.6,598.9 353.3,597.2 351.9,595.5 350.6,593.8 349.4,592.0 348.2,590.3 347.0,588.5 346.1,586.8 345.2,585.1 344.5,583.4 344.0,581.8 343.7,580.3 343.6,578.8 Z" fill="#f7f3f1" stroke="#4d4646" stroke-width="3.0"/>
<path d="M346.1,573.0 346.3,571.7 346.7,570.4 347.4,569.2 348.2,568.0 349.3,567.0 350.5,566.0 351.9,565.1 353.4,564.3 355.1,563.5 356.8,562.8 358.7,562.2 360.7,561.7 362.8,561.2 364.9,560.7 367.1,560.3 369.3,560.0 371.5,559.8 373.7,559.5 375.9,559.4 378.1,559.3 380.3,559.2 382.4,559.2 384.5,559.2 386.7,559.3 388.8,559.4 390.8,559.6 392.9,559.8 394.9,560.0 397.0,560.3 399.0,560.6 401.0,561.0 403.0,561.4 404.9,561.9 406.9,562.4 408.8,562.9 410.8,563.4 412.7,564.0 414.6,564.7 416.5,565.3 418.3,566.0 420.2,566.8 422.0,567.5 423.8,568.3 425.7,569.1 427.5,570.0 429.3,570.8 431.0,571.7 432.8,572.7 434.5,573.6 436.3,574.6 438.0,575.6 439.7,576.6 441.4,577.7 443.1,578.7 444.8,579.8 446.5,580.9 448.2,582.1 449.8,583.2 451.5,584.4 453.1,585.6 454.7,586.8 456.4,588.0 458.0,589.2 459.6,590.4 461.2,591.7 462.7,593.0 464.3,594.2 465.9,595.5 467.5,596.8 469.0,598.1 470.6,599.4 472.1,600.7 473.6,602.1 475.2,603.4 476.7,604.7 478.2,606.1 479.7,607.4 481.2,608.8 482.7,610.1 484.2,611.5 485.7,612.9 487.1,614.3 488.6,615.6 490.1,617.0 491.5,618.4 493.0,619.8 494.4,621.2 495.9,622.6 497.3,624.0 498.8,625.4 500.2,626.9 501.6,628.3 503.0,629.7 504.5,631.1 505.9,632.6 507.3,634.0 508.7,635.5 510.1,636.9 511.5,638.4 512.8,639.8 514.2,641.3 515.6,642.7 517.0,644.2 518.4,645.7 519.7,647.2 521.1,648.6 522.5,650.1 523.8,651.6 525.2,653.1 526.5,654.6 527.9,656.1 529.2,657.6 530.6,659.1 531.9,660.5 533.2,662.1 534.6,663.6 535.9,665.1 537.2,666.6 538.6,668.1 539.9,669.6 541.2,671.1 542.5,672.6 543.8,674.1 545.2,675.7 546.5,677.2 547.8,678.7 549.1,680.2 550.4,681.7 551.7,683.3 553.0,684.8 554.3,686.3 555.6,687.8 556.9,689.4 558.2,690.9 559.5,692.4 560.8,694.0 562.1,695.5 563.4,697.0 564.7,698.6 566.0,700.1 567.3,701.6 568.6,703.2 569.9,704.7 571.2,706.2 572.5,707.7 573.8,709.3 575.1,710.8 576.4,712.3 577.7,713.9 579.0,715.4 580.3,716.9 581.6,718.4 582.9,720.0 584.2,721.5 585.5,723.0 586.8,724.5 588.1,726.1 589.5,727.6 590.8,729.1 592.1,730.6 593.4,732.1 594.7,733.6 596.0,735.1 597.3,736.6 598.6,738.1 600.0,739.6 601.3,741.1 602.6,742.6 603.9,744.1 605.3,745.6 606.6,747.1 607.9,748.6 609.3,750.1 610.6,751.6 612.0,753.1 613.3,754.5 614.7,756.0 616.0,757.5 617.4,758.9 618.7,760.4 620.1,761.9 621.4,763.3 622.8,764.8 624.2,766.2 625.6,767.6 626.9,769.1 628.3,770.5 629.7,772.0 631.1,773.4 632.5,774.8 633.9,776.2 635.3,777.6 636.7,779.0 638.1,780.4 639.6,781.8 641.0,783.2 642.4,784.6 643.8,786.0 645.3,787.4 646.7,788.8 648.2,790.1 649.6,791.5 651.1,792.8 652.6,794.2 654.0,795.5 655.5,796.9 657.0,798.2 658.5,799.5 660.0,800.9 661.5,802.2 663.0,803.5 664.5,804.8 666.0,806.1 667.5,807.4 669.1,808.7 670.6,809.9 672.2,811.2 673.7,812.5 675.3,813.7 676.8,815.0 678.4,816.2 680.0,817.4 681.6,818.7 683.2,819.9 684.8,821.1 686.4,822.3 688.0,823.5 689.6,824.7 691.3,825.9 692.9,827.0 694.6,828.2 696.2,829.4 697.9,830.5 699.5,831.6 701.2,832.8 702.9,833.9 704.6,835.0 706.3,836.1 708.0,837.2 709.7,838.3 711.4,839.4 713.1,840.5 714.8,841.6 716.5,842.6 718.3,843.7 720.0,844.7 721.7,845.8 723.5,846.8 725.3,847.8 727.0,848.8 728.8,849.8 730.6,850.8 732.3,851.8 734.1,852.8 735.9,853.7 737.7,854.7 739.5,855.6 741.3,856.6 743.1,857.5 744.9,858.4 746.7,859.3 748.6,860.2 750.4,861.1 752.2,862.0 754.1,862.9 755.9,863.8 757.7,864.6 759.6,865.5 761.4,866.3 763.3,867.1 765.2,867.9 767.0,868.8 768.9,869.6 770.8,870.3 772.6,871.1 774.5,871.9 776.4,872.7 778.3,873.4 780.2,874.1 782.1,874.9 784.0,875.6 785.9,876.3 787.8,877.0 789.7,877.7 791.6,878.4 793.5,879.1 795.4,879.7 797.4,880.4 799.3,881.0 801.2,881.6 803.1,882.3 805.1,882.9 807.0,883.5 808.9,884.0 810.9,884.6 812.8,885.2 814.8,885.7 816.7,886.3 818.7,886.8 820.6,887.3 822.6,887.9 824.5,888.4 826.5,888.8 828.4,889.3 830.4,889.8 832.3,890.2 834.3,890.7 836.3,891.1 838.2,891.6 840.2,892.0 842.2,892.4 844.1,892.8 846.1,893.1 848.1,893.5 850.1,893.9 852.0,894.2 854.0,894.5 856.0,894.9 858.0,895.2 859.9,895.5 861.9,895.7 863.9,896.0 865.9,896.3 867.9,896.5 869.8,896.8 871.8,897.0 873.8,897.2 875.8,897.4 877.8,897.6 879.7,897.8 881.7,897.9 883.7,898.1 885.7,898.2 887.7,898.4 889.6,898.5 891.6,898.6 893.6,898.7 895.6,898.8 897.6,898.8 899.6,898.9 901.5,899.0 903.5,899.0 905.5,899.0 907.5,899.1 909.5,899.1 911.4,899.1 913.4,899.1 915.4,899.1 917.4,899.1 919.4,899.0 921.4,899.0 923.4,899.0 925.3,898.9 927.3,898.9 929.3,898.8 931.3,898.8 933.3,898.7 935.3,898.6 937.3,898.5 939.3,898.4 941.2,898.3 943.2,898.2 945.2,898.1 947.2,898.0 949.2,897.9 951.2,897.8 953.2,897.7 955.2,897.6 957.2,897.4 959.2,897.3 961.2,897.2 963.2,897.0 965.2,896.9 967.2,896.8 969.2,896.6 971.2,896.5 973.2,896.3 975.2,896.2 977.2,896.1 979.2,895.9 981.3,895.8 983.3,895.6 985.3,895.5 987.3,895.3 989.3,895.2 991.3,895.0 993.3,894.9 995.4,894.8 997.4,894.6 999.4,894.5 1001.4,894.3 1003.4,894.2 1005.5,894.1 1007.5,894.0 1009.5,893.8 1011.6,893.7 1013.6,893.6 1015.6,893.5 1017.7,893.4 1019.7,893.3 1021.7,893.2 1023.8,893.1 1025.8,893.0 1027.9,892.9 1029.9,892.8 1032.0,892.7 1034.0,892.7 1036.1,892.6 1038.1,892.5 1040.2,892.5 1042.2,892.4 1044.3,892.4 1046.4,892.4 1048.4,892.4 1050.5,892.3 1052.5,892.3 1054.6,892.3 1056.7,892.3 1058.8,892.4 1060.8,892.4 1062.9,892.4 1065.0,892.5 1067.1,892.5 1069.2,892.6 1071.3,892.7 1073.3,892.8 1075.4,892.9 1077.5,893.0 1079.6,893.2 1081.5,893.4 1083.5,893.6 1085.3,894.0 1087.1,894.4 1088.7,895.0 1090.3,895.6 1091.6,896.4 1092.9,897.3 1093.9,898.4 1094.8,899.6 1095.4,901.0 1095.8,902.6 1096.1,904.3 1096.1,906.1 1096.1,907.9 1095.9,909.7 1095.5,911.4 1095.1,913.1 1094.6,914.7 1093.9,916.2 1093.2,917.7 1092.4,919.2 1091.4,920.6 1090.4,922.0 1089.4,923.3 1088.2,924.6 1087.0,925.8 1085.6,927.1 1084.3,928.2 1082.8,929.4 1081.4,930.5 1079.8,931.6 1078.2,932.6 1076.6,933.6 1074.9,934.6 1073.2,935.6 1071.4,936.5 1069.7,937.5 1067.9,938.4 1066.0,939.3 1064.2,940.2 1062.3,941.0 1060.5,941.9 1058.6,942.7 1056.7,943.6 1054.9,944.4 1053.0,945.2 1051.1,946.0 1049.2,946.8 1047.3,947.5 1045.4,948.3 1043.5,949.1 1041.6,949.8 1039.7,950.6 1037.7,951.3 1035.8,952.0 1033.9,952.7 1032.0,953.4 1030.0,954.1 1028.1,954.7 1026.1,955.4 1024.2,956.0 1022.2,956.7 1020.3,957.3 1018.3,957.9 1016.4,958.5 1014.4,959.1 1012.4,959.7 1010.5,960.2 1008.5,960.8 1006.5,961.3 1004.5,961.8 1002.5,962.4 1000.6,962.9 998.6,963.4 996.6,963.8 994.6,964.3 992.6,964.8 990.6,965.2 988.6,965.6 986.6,966.0 984.6,966.4 982.6,966.8 980.6,967.2 978.6,967.6 976.6,967.9 974.6,968.3 972.6,968.6 970.6,968.9 968.6,969.2 966.6,969.5 964.6,969.8 962.6,970.1 960.5,970.3 958.5,970.5 956.5,970.8 954.5,971.0 952.5,971.2 950.5,971.4 948.5,971.5 946.5,971.7 944.4,971.8 942.4,971.9 940.4,972.1 938.4,972.2 936.4,972.3 934.4,972.3 932.4,972.4 930.4,972.4 928.4,972.5 926.4,972.5 924.4,972.5 922.4,972.5 920.4,972.4 918.4,972.4 916.4,972.3 914.4,972.3 912.4,972.2 910.4,972.1 908.4,972.0 906.4,971.9 904.5,971.7 902.5,971.6 900.5,971.4 898.5,971.2 896.6,971.0 894.6,970.8 892.6,970.5 890.7,970.3 888.7,970.0 886.7,969.8 884.8,969.5 882.8,969.1 880.9,968.8 878.9,968.5 877.0,968.1 875.1,967.8 873.1,967.4 871.2,967.0 869.3,966.6 867.4,966.1 865.5,965.7 863.5,965.2 861.6,964.7 859.7,964.3 857.8,963.8 855.9,963.2 854.0,962.7 852.1,962.2 850.2,961.6 848.4,961.0 846.5,960.4 844.6,959.8 842.7,959.2 840.9,958.6 839.0,958.0 837.1,957.3 835.3,956.7 833.4,956.0 831.6,955.3 829.7,954.6 827.9,953.9 826.0,953.2 824.2,952.4 822.4,951.7 820.5,950.9 818.7,950.2 816.9,949.4 815.1,948.6 813.2,947.8 811.4,947.0 809.6,946.1 807.8,945.3 806.0,944.5 804.2,943.6 802.4,942.7 800.6,941.9 798.8,941.0 797.0,940.1 795.3,939.2 793.5,938.3 791.7,937.3 789.9,936.4 788.2,935.5 786.4,934.5 784.6,933.5 782.9,932.6 781.1,931.6 779.4,930.6 777.6,929.6 775.9,928.6 774.1,927.6 772.4,926.6 770.7,925.6 768.9,924.5 767.2,923.5 765.5,922.4 763.8,921.4 762.0,920.3 760.3,919.2 758.6,918.2 756.9,917.1 755.2,916.0 753.5,914.9 751.8,913.8 750.1,912.7 748.4,911.6 746.7,910.4 745.1,909.3 743.4,908.2 741.7,907.0 740.0,905.9 738.3,904.7 736.7,903.6 735.0,902.4 733.3,901.3 731.7,900.1 730.0,898.9 728.4,897.7 726.7,896.6 725.1,895.4 723.4,894.2 721.8,893.0 720.2,891.8 718.5,890.6 716.9,889.4 715.3,888.2 713.7,887.0 712.0,885.7 710.4,884.5 708.8,883.3 707.2,882.1 705.6,880.9 704.0,879.6 702.4,878.4 700.8,877.2 699.2,875.9 697.6,874.7 696.0,873.4 694.4,872.2 692.8,870.9 691.2,869.7 689.7,868.4 688.1,867.2 686.5,865.9 684.9,864.6 683.4,863.4 681.8,862.1 680.2,860.8 678.7,859.6 677.1,858.3 675.6,857.0 674.0,855.7 672.4,854.5 670.9,853.2 669.3,851.9 667.8,850.6 666.3,849.3 664.7,848.0 663.2,846.7 661.6,845.5 660.1,844.2 658.6,842.9 657.0,841.6 655.5,840.3 654.0,839.0 652.4,837.7 650.9,836.4 649.4,835.0 647.9,833.7 646.4,832.4 644.8,831.1 643.3,829.8 641.8,828.5 640.3,827.2 638.8,825.9 637.3,824.5 635.8,823.2 634.2,821.9 632.7,820.6 631.2,819.3 629.7,817.9 628.2,816.6 626.7,815.3 625.2,814.0 623.7,812.6 622.2,811.3 620.7,810.0 619.2,808.7 617.7,807.3 616.2,806.0 614.7,804.7 613.2,803.3 611.7,802.0 610.2,800.7 608.8,799.3 607.3,798.0 605.8,796.7 604.3,795.3 602.8,794.0 601.3,792.7 599.8,791.3 598.3,790.0 596.8,788.7 595.4,787.3 593.9,786.0 592.4,784.7 590.9,783.3 589.4,782.0 587.9,780.7 586.4,779.3 584.9,778.0 583.5,776.7 582.0,775.3 580.5,774.0 579.0,772.7 577.5,771.3 576.0,770.0 574.5,768.7 573.1,767.3 571.6,766.0 570.1,764.7 568.6,763.3 567.1,762.0 565.6,760.7 564.1,759.3 562.6,758.0 561.2,756.7 559.7,755.4 558.2,754.0 556.7,752.7 555.2,751.4 553.7,750.1 552.2,748.7 550.7,747.4 549.2,746.1 547.7,744.8 546.2,743.5 544.7,742.1 543.2,740.8 541.7,739.5 540.2,738.2 538.7,736.9 537.2,735.6 535.7,734.3 534.2,733.0 532.7,731.7 531.2,730.4 529.7,729.1 528.2,727.7 526.7,726.5 525.1,725.2 523.6,723.9 522.1,722.6 520.6,721.3 519.1,720.0 517.6,718.7 516.0,717.4 514.5,716.1 513.0,714.8 511.5,713.6 509.9,712.3 508.4,711.0 506.9,709.7 505.3,708.5 503.8,707.2 502.3,705.9 500.7,704.7 499.2,703.4 497.6,702.1 496.1,700.9 494.5,699.6 493.0,698.4 491.4,697.1 489.9,695.9 488.3,694.6 486.8,693.4 485.2,692.1 483.6,690.9 482.1,689.7 480.5,688.4 478.9,687.2 477.3,686.0 475.8,684.7 474.2,683.5 472.6,682.3 471.0,681.1 469.4,679.9 467.8,678.7 466.2,677.5 464.6,676.3 463.0,675.1 461.4,673.9 459.8,672.7 458.2,671.5 456.6,670.3 455.0,669.1 453.4,667.9 451.8,666.8 450.1,665.6 448.5,664.4 446.9,663.3 445.2,662.1 443.6,660.9 442.0,659.8 440.3,658.6 438.7,657.5 437.0,656.4 435.4,655.2 433.7,654.1 432.1,653.0 430.4,651.8 428.7,650.7 427.0,649.6 425.4,648.5 423.7,647.4 422.0,646.2 420.3,645.1 418.7,644.0 417.0,642.9 415.3,641.8 413.6,640.7 411.9,639.5 410.3,638.4 408.6,637.3 406.9,636.1 405.2,635.0 403.6,633.9 401.9,632.7 400.2,631.5 398.6,630.4 396.9,629.2 395.3,628.0 393.6,626.8 392.0,625.6 390.4,624.4 388.8,623.1 387.1,621.9 385.5,620.6 383.9,619.3 382.3,618.0 380.8,616.7 379.2,615.4 377.6,614.1 376.1,612.7 374.6,611.3 373.0,609.9 371.5,608.5 370.0,607.1 368.5,605.6 367.0,604.1 365.6,602.6 364.1,601.1 362.7,599.6 361.3,598.0 359.9,596.4 358.5,594.7 357.1,593.1 355.8,591.4 354.4,589.7 353.1,588.0 351.9,586.2 350.7,584.5 349.5,582.7 348.6,581.0 347.7,579.3 347.0,577.6 346.5,576.0 346.2,574.5 346.1,573.0 Z" fill="#f7f3f1" stroke="#4d4646" stroke-width="3.0"/>
</g>
<g fill="#0b0b0b" stroke="#0b0b0b">
<line x1="326" y1="293" x2="326" y2="456" stroke-width="2.2"/><circle cx="326" cy="456" r="4.2" stroke="none"/>
<line x1="568" y1="382" x2="568" y2="650" stroke-width="2.2"/><circle cx="568" cy="650" r="4.2" stroke="none"/>
<line x1="915" y1="516" x2="915" y2="792" stroke-width="2.2"/><circle cx="915" cy="792" r="4.2" stroke="none"/>
<line x1="987" y1="703" x2="987" y2="866" stroke-width="2.2"/><circle cx="987" cy="866" r="4.2" stroke="none"/>
<line x1="383" y1="1024" x2="383" y2="1154" stroke-width="2.2"/><circle cx="383" cy="1024" r="4.2" stroke="none"/>
<line x1="707" y1="913" x2="707" y2="1233" stroke-width="2.2"/><circle cx="707" cy="913" r="4.2" stroke="none"/>
<line x1="953" y1="926" x2="953" y2="1133" stroke-width="2.2"/><circle cx="953" cy="926" r="4.2" stroke="none"/>
</g>
<g font-family="Liberation Serif" font-size="28" font-weight="bold" fill="#111">
<text x="1061" y="923">1</text>
<text x="1089" y="949">2</text>
<text x="1116.5" y="976" font-size="30">3</text>
</g>
</svg>
<div class="t" style="left:120.00px;top:187.10px;transform:scaleX(1.0000)">Finest Quality</div>
<div class="t" style="left:119.96px;top:239.10px;transform:scaleX(1.0217)">Leather Upper</div>
<div class="t" style="left:556.81px;top:272.10px;transform:scaleX(1.0464)">Super-Soft</div>
<div class="t" style="left:558.98px;top:323.10px;transform:scaleX(1.0106)">Leather Lining</div>
<div class="t" style="left:895.92px;top:412.10px;transform:scaleX(1.0383)">High-Cut</div>
<div class="t" style="left:899.97px;top:461.10px;transform:scaleX(1.0293)">Top-Line</div>
<div class="t" style="left:940.94px;top:598.10px;transform:scaleX(1.0280)">Cushioning Stretch</div>
<div class="t" style="left:977.99px;top:650.10px;transform:scaleX(1.0075)">Panel for Bunions</div>
<div class="t" style="left:180.03px;top:1096.10px;transform:scaleX(0.9926)">Shock</div>
<div class="t" style="left:181.94px;top:1148.10px;transform:scaleX(1.0296)">Resistant</div>
<div class="t" style="left:182.03px;top:1200.10px;transform:scaleX(0.9831)">Heel Piece</div>
<div class="t" style="left:517.78px;top:1221.10px;transform:scaleX(1.0559)">Superior</div>
<div class="t" style="left:518.98px;top:1273.10px;transform:scaleX(1.0182)">Arch Support</div>
<div class="t" style="left:944.02px;top:1133.10px;transform:scaleX(0.9931)">3 Underfoot Layers</div>
<div class="t" style="left:1056.48px;top:1185.10px;transform:scaleX(1.0079)">of Cushioning</div>
<div class="t" style="left:1049.03px;top:1237.10px;transform:scaleX(0.9849)">Memory Foam</div>
</body></html>
